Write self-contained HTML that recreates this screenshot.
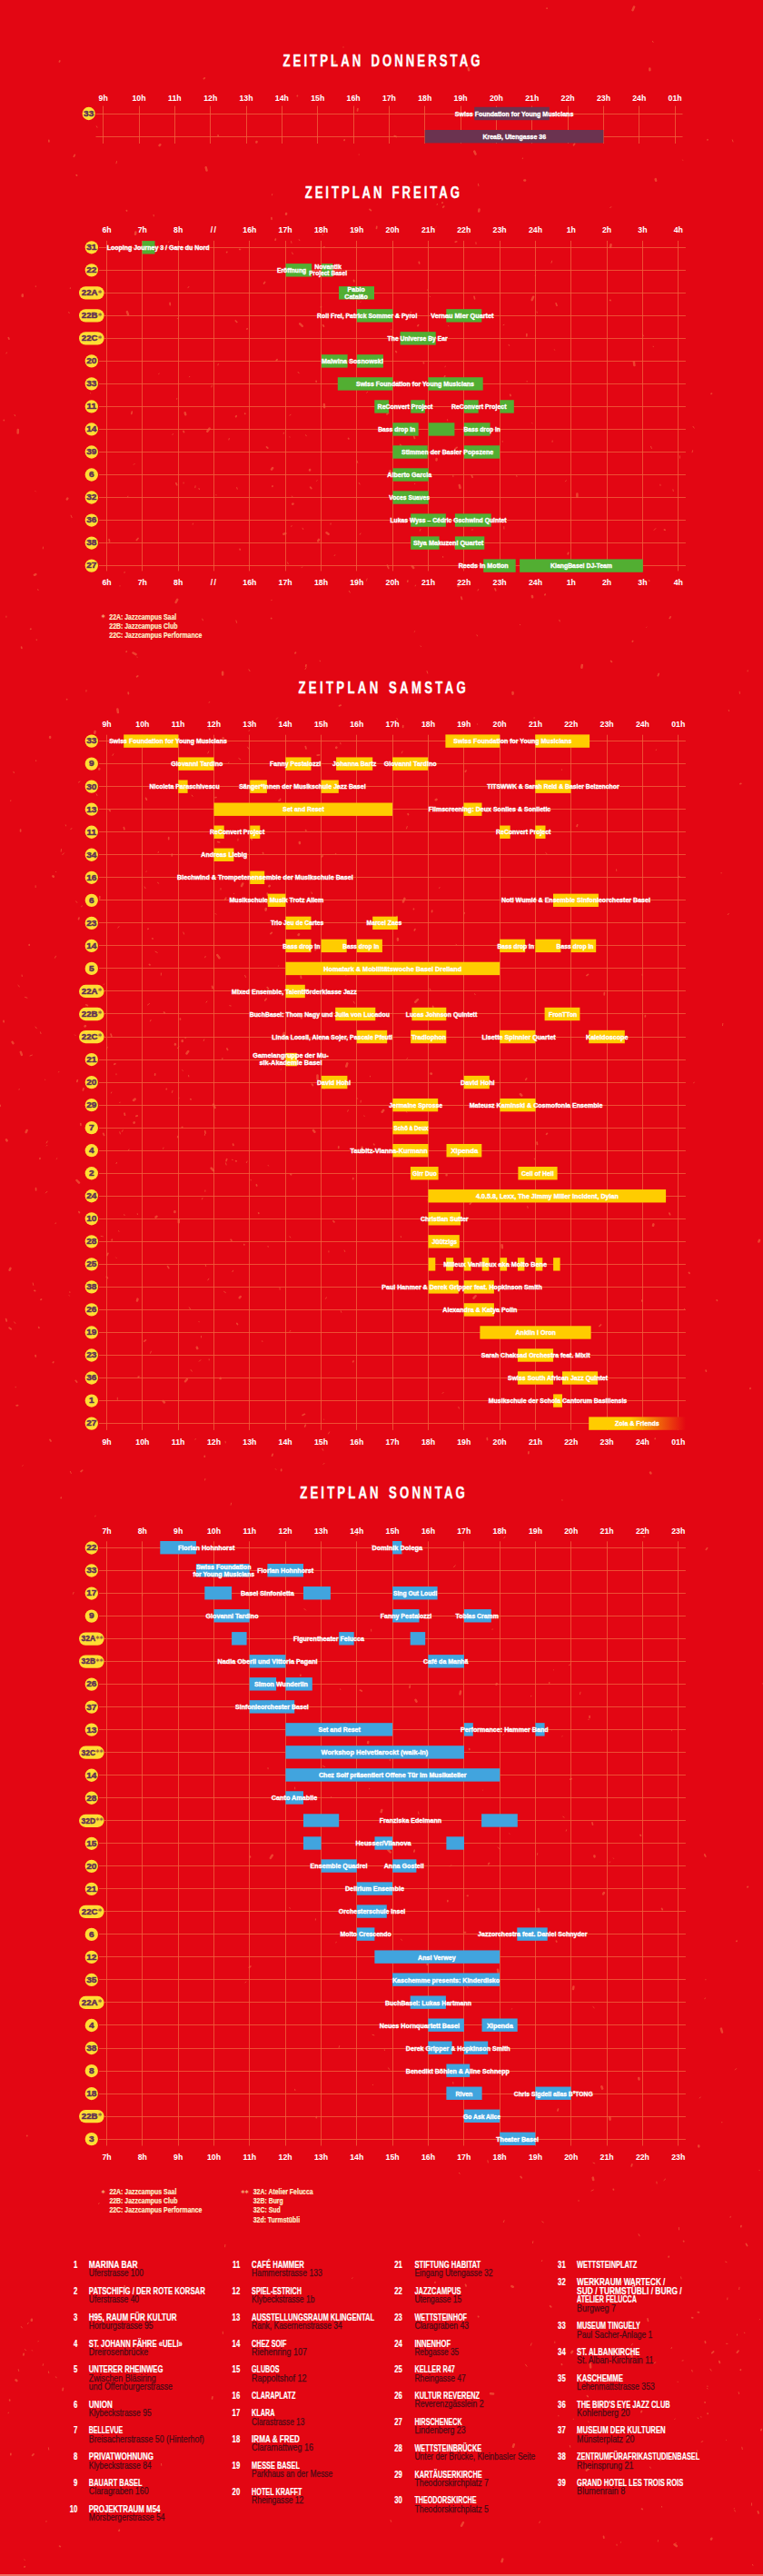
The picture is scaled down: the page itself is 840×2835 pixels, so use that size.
<!DOCTYPE html>
<html lang="de"><head><meta charset="utf-8"><title>Zeitplan</title>
<style>
html,body{margin:0;padding:0;background:#e30613;}
body{width:840px;height:2835px;overflow:hidden;font-family:"Liberation Sans",sans-serif;}
svg{display:block;font-family:"Liberation Sans",sans-serif;font-weight:700;}
.ti{fill:#fff;stroke:#fff;stroke-width:.35;}
.hl{fill:#fff;}
.ev{fill:#fff;stroke:#fff;stroke-width:.38;}
.gr{stroke:#f0603c;stroke-width:1;stroke-opacity:.8;fill:none;}
.cn{fill:#5f2d55;stroke:#5f2d55;stroke-width:.45;}
.st{fill:#9a5a40;font-family:"DejaVu Sans",sans-serif;}
.fn{fill:#ffefc8;stroke:#ffefc8;stroke-width:.2;}
.fs{fill:#f5a070;font-family:"DejaVu Sans",sans-serif;}
.ln{fill:#fff;stroke:#fff;stroke-width:.2;}
.la{fill:#4a0a14;stroke:#4a0a14;stroke-width:.25;font-weight:400;}
</style></head><body>
<svg width="840" height="2835" viewBox="0 0 840 2835">
<defs><linearGradient id="fade" x1="648" x2="755" gradientUnits="userSpaceOnUse"><stop offset="0" stop-color="#ffcc00"/><stop offset=".42" stop-color="#ffcc00"/><stop offset="1" stop-color="#e30613"/></linearGradient></defs>
<rect width="840" height="2835" fill="#e30613"/>
<rect y="2833" width="840" height="2" fill="#f06a5e"/>
<g stroke="#ee4d35" stroke-opacity=".85" stroke-linecap="round" fill="none"><path d="M307.8 106.5l0.2 0.2M320.0 456.2l-1.0 1.1M195.4 350.4l-0.1 0.3M252.3 482.5l-0.4 1.5M608.2 485.0l-0.1 1.4M456.3 502.5l0.3 0.2M316.5 618.9l0.8 1.8M492.6 461.6l0.1 1.3M321.5 277.9l0.9 1.8M403.0 318.2l-0.6 2.1M194.8 438.5l-0.2 0.7M526.5 202.3l0.4 2.4M219.0 537.4l0.4 1.3M487.6 612.4l0.1 1.0M404.7 431.2l-1.1 1.1M397.0 587.0l-0.7 1.2M576.5 622.6l0.0 0.4M568.7 523.3l0.3 1.3M141.0 546.3l-0.5 0.1M321.4 546.0l0.6 0.9M814.2 761.2l0.2 2.2M148.2 510.4l-0.9 0.9M610.4 384.8l0.2 0.4M128.5 177.5l-0.5 2.3M215.1 534.8l-0.3 1.9M472.9 326.1l0.6 0.4M397.1 332.1l-0.2 0.3M452.2 200.4l0.5 0.4M463.0 582.4l-0.7 1.9M404.1 636.9l-0.7 2.3M553.2 485.5l0.1 0.7M202.1 531.0l0.0 1.0M355.1 257.3l0.2 1.1M208.7 414.4l-0.2 0.4M318.9 480.8l0.1 0.3M433.1 297.2l-1.1 1.9M77.4 316.7l-0.1 0.9M260.7 536.5l0.5 1.7M430.7 362.6l-0.1 0.3M207.9 315.4l-1.0 1.4M748.4 501.7l0.1 2.5M332.7 623.9l-0.5 0.7M7.4 388.0l-0.4 0.9M395.2 531.4l0.9 1.6M554.8 579.6l0.1 2.5M321.1 578.6l-0.4 0.9M493.6 358.5l0.2 0.4M490.5 403.2l-0.6 0.4M299.0 660.3l-0.1 0.4M456.8 694.7l-0.7 0.6M623.3 528.8l-0.8 1.0M456.8 532.4l-0.4 0.1M721.8 581.6l-1.7 1.8M607.6 287.2l-0.6 2.1M237.9 544.6l0.1 0.3M41.7 648.6l0.4 1.0M560.1 379.3l0.5 1.1M763.0 469.3l1.2 1.8M328.1 409.4l1.1 1.4M349.1 528.7l-0.5 0.6M384.3 650.4l1.0 1.7M523.9 266.6l0.2 2.0M99.4 432.6l0.4 0.3M393.1 507.2l0.7 2.2M402.0 421.2l-0.5 0.6M240.3 400.5l-0.4 1.4M39.0 540.6l0.3 0.3M364.1 575.9l-0.1 1.3M572.5 687.4l0.1 0.3M740.9 538.7l0.4 1.8M39.3 314.8l0.0 0.9M470.9 318.6l-0.2 0.8M329.2 263.6l0.7 1.1M498.8 522.8l0.1 1.9M259.9 682.9l0.7 2.5M823.2 737.8l-0.1 1.1M40.2 703.7l0.1 1.0M459.3 441.4l-0.8 2.0M457.5 644.1l-0.3 0.8M707.4 368.1l1.0 1.7M751.6 176.1l0.1 0.2M525.0 698.8l0.5 1.1M579.9 419.8l0.7 -0.0M726.9 533.2l0.1 1.2M16.0 456.4l0.7 1.4M137.2 629.3l-0.2 1.2M555.0 357.4l-0.9 0.3M233.3 424.3l-0.5 1.7M585.7 465.6l0.3 0.2M591.0 343.1l0.3 1.0M762.6 495.7l-0.5 2.1M185.8 265.9l-0.4 0.6M481.4 224.4l-0.3 1.1M320.6 265.6l0.3 1.8M312.5 476.2l-0.3 1.1M589.5 303.1l-0.2 0.5M212.4 576.1l-0.2 1.0M520.1 582.6l-0.2 0.9M615.8 682.3l0.5 1.6M299.7 213.7l-0.2 1.1M175.2 411.2l-0.5 0.3M75.7 343.5l0.5 1.1M716.5 491.3l0.9 2.2M411.2 392.0l0.3 2.6M309.3 1176.7l-0.2 0.5M224.8 1143.8l-0.6 1.7M257.4 983.4l0.4 0.3M78.1 567.2l1.0 2.4M87.9 1140.2l0.7 1.4M346.3 796.1l-0.2 0.5M219.0 1454.5l0.1 0.3M6.9 678.1l0.0 1.2M211.2 875.1l0.9 1.3M356.6 1562.2l0.2 0.0M289.0 1476.2l-0.7 -0.2M230.8 772.7l-0.8 0.4M61.3 1345.9l-0.3 0.8M210.1 1507.5l1.1 1.7M334.5 1117.3l-0.2 1.7M337.1 734.6l-1.1 1.9M303.4 1616.7l0.5 0.6M200.7 1177.7l0.7 0.6M164.5 1104.6l-2.0 1.4M305.6 789.9l-1.4 1.6M223.0 1318.5l-0.6 1.4M248.1 1586.3l0.2 1.6M335.8 867.9l0.0 0.2M27.5 1097.4l2.4 0.8M357.0 1610.4l-1.0 1.0M180.0 1263.1l-0.4 1.1M441.3 1360.6l0.2 1.1M256.3 1276.5l-0.8 -0.2M62.9 1274.7l-0.8 0.8M222.7 681.1l0.7 1.7M70.4 938.9l-1.6 1.7M207.6 1183.4l0.2 1.5M319.8 1464.3l-0.9 1.2M225.6 839.0l-0.5 1.1M159.1 976.0l1.0 1.7M39.6 836.8l0.1 0.9M131.0 1019.6l-1.2 1.5M354.9 1594.4l0.9 1.9M72.3 907.9l0.2 1.0M359.7 1427.9l-1.5 1.4M230.2 1495.8l-0.0 1.1M333.1 581.2l0.6 1.3M342.9 981.9l0.6 1.7M190.0 1200.3l-0.6 2.2M352.2 727.1l0.2 0.7M128.5 1279.4l-0.5 1.2M39.2 974.7l-0.0 1.9M273.9 736.8l1.2 1.9M221.5 1470.3l0.0 1.7M132.0 644.7l-0.0 0.3M151.0 723.0l0.1 0.4M82.4 1138.9l0.6 0.6M131.8 1245.8l0.6 2.1M443.1 826.8l-0.9 2.1M177.4 1071.0l-0.1 2.2M243.0 977.6l0.0 1.5M19.9 1084.4l1.5 1.4M161.2 958.9l-0.3 0.6M47.5 602.0l-0.2 1.9M191.7 799.9l0.9 0.7M502.1 1039.2l0.3 0.4M39.0 1130.1l1.3 1.7M83.7 991.9l1.0 1.4M24.1 1073.0l0.2 1.6M136.7 1336.6l0.4 1.0M15.7 1454.9l1.1 1.5M142.0 1265.0l-0.8 1.4M190.4 477.6l-0.5 0.8M230.2 801.3l0.2 1.5M229.8 826.9l-1.0 2.1M51.8 1260.4l-0.5 0.6M295.0 1371.4l0.2 0.9M90.5 997.0l-1.0 0.7M111.1 1360.4l2.2 0.4M166.1 1122.5l-0.7 1.4M77.4 1619.4l0.9 2.1M173.5 971.3l1.3 0.9M67.5 934.6l-0.3 2.6M196.9 1151.8l-1.6 1.9M254.6 1654.2l-0.5 2.0M375.3 1442.8l0.5 1.5M262.0 923.1l-0.1 2.1M128.0 1181.8l-0.0 1.0M197.0 1208.2l-0.0 0.5M237.1 1005.4l0.8 0.9M276.1 1298.3l0.1 0.6M35.4 1161.1l-2.4 0.9M361.9 1376.8l0.0 1.2M400.9 1227.9l0.2 0.5M274.6 803.6l-0.6 0.9M226.2 1052.4l-0.5 1.4M290.1 872.1l-0.0 0.5M95.0 759.5l-0.1 1.6M61.5 1052.2l-1.0 2.0M252.0 838.9l-0.6 0.9M525.5 796.8l0.1 0.5M97.8 1018.5l0.5 0.8M156.9 1754.7l-0.3 1.7M201.8 1026.0l0.8 2.1M88.0 860.0l-1.6 1.1M360.2 1063.8l0.2 1.3M244.9 1164.4l-0.1 1.5M81.1 1752.4l-0.7 1.9M135.2 1243.7l-0.8 1.7M563.9 993.1l0.1 0.3M252.8 1106.7l1.4 0.3M151.3 1335.7l0.1 0.9M225.9 1309.9l-0.1 1.4M52.0 1311.2l-1.7 1.7M484.0 976.6l-0.4 0.8M306.8 1062.9l-0.5 0.3M132.0 1213.1l-0.2 0.5M246.6 1421.4l1.8 1.2M269.6 1073.4l1.0 2.1M64.8 1179.5l-0.2 0.4M130.4 1354.7l0.6 0.4M248.5 1279.9l0.6 2.1M118.2 1152.3l-0.7 2.0M11.8 880.9l-0.1 0.6M61.4 959.3l0.4 0.4M44.5 1135.9l0.5 1.7M21.2 1198.6l-0.2 0.6M271.3 942.9l0.5 2.3M304.2 868.8l-0.1 0.4M295.2 1282.5l0.3 0.5M368.9 610.9l-0.8 0.4M14.9 849.3l0.5 1.4M52.2 1256.0l-1.1 2.0M174.5 937.3l-0.4 1.1M122.8 1202.0l-0.4 1.0M397.3 1211.2l-0.2 2.0M473.0 1088.1l1.1 2.0M124.8 829.8l-0.9 1.6M522.6 1093.7l0.6 1.0M580.7 1327.6l0.4 1.8M448.8 1164.4l-1.0 0.9M272.6 822.2l1.4 2.1M588.3 1275.1l0.1 0.7M600.8 938.6l1.4 1.2M374.7 817.4l0.3 1.5M356.9 1196.3l0.2 2.3M588.7 790.0l-1.0 0.1M227.9 1102.0l-0.9 1.2M802.3 1005.3l-1.1 1.4M389.2 1102.1l1.2 2.1M229.9 1407.2l-1.1 1.7M393.1 1208.5l0.5 0.8M712.0 690.1l-0.2 0.2M526.7 648.5l-0.7 1.5M369.3 939.4l0.6 0.0M519.7 1315.0l-1.3 1.8M336.6 478.7l0.7 1.1M49.7 1188.2l0.0 0.2M123.7 700.3l0.8 1.8M802.2 781.3l0.3 1.3M338.2 861.3l1.0 1.1M618.5 846.8l-0.1 0.6M722.5 825.0l-0.3 0.7M262.9 834.6l1.9 1.3M78.9 911.5l-1.1 1.3M794.1 960.5l-0.0 0.5M381.7 1072.2l-1.0 1.6M747.4 964.5l1.7 0.8M436.8 790.4l1.0 1.7M226.1 1391.5l0.6 2.1M407.5 1184.3l-0.0 0.6M173.2 1048.4l-2.2 -1.2M707.1 1072.2l0.2 1.4M383.3 1221.7l-0.6 1.5M678.6 956.8l0.1 1.6M515.8 255.7l-0.7 1.5M470.0 738.5l0.8 2.5M795.8 1126.4l-0.3 2.3M106.1 873.7l0.9 1.9M504.8 1548.4l0.6 1.7M448.3 909.5l-0.8 2.5M583.2 994.9l-0.2 0.5M379.1 1376.0l0.6 1.5M114.6 1083.0l-0.4 0.5M511.5 1004.3l-0.3 1.5M463.1 711.0l0.3 0.5M25.1 1612.8l-0.3 0.4M127.7 1384.0l0.4 0.4M36.2 1412.0l0.5 2.4M76.8 1421.7l0.1 0.8M318.9 1360.8l0.8 1.2M272.1 1278.0l-0.7 1.6M17.2 1526.3l0.0 0.5M76.1 1425.7l0.2 0.3M488.1 1532.4l-0.9 1.0M308.0 1417.1l0.2 2.2M225.5 1248.4l-0.1 1.0M129.3 1538.2l0.0 2.2M220.8 1496.7l-1.5 1.5M208.3 1438.8l1.3 2.2M153.5 1514.7l-1.2 1.6M362.6 1576.0l-1.1 2.0M215.3 1583.5l-0.3 0.7M166.4 1487.2l-0.9 2.1M105.1 1668.1l-0.3 0.8M225.9 1627.5l-0.3 1.5M256.6 1398.2l-0.7 1.5M435.5 1756.0l0.8 2.0M619.1 1910.7l-0.3 0.2M556.0 1691.2l-1.4 1.7M514.2 2186.7l1.0 0.7M443.0 1708.9l-0.2 1.0M270.8 2181.0l-0.9 1.0M496.7 2052.7l-1.1 1.2M423.3 2255.8l0.1 0.8M618.9 1650.6l0.1 0.7M381.0 1896.1l-0.3 2.5M318.7 2099.4l0.6 0.9M560.8 2017.9l0.2 0.3M347.4 2111.8l0.0 1.3M324.6 1967.1l0.1 1.8M370.3 2137.4l-0.6 0.4M591.7 2039.7l-0.2 1.5M355.3 1943.5l2.4 1.0M587.5 1468.7l-0.6 0.8M441.5 2134.1l0.9 1.2M542.2 1792.9l-0.1 0.5M324.6 2299.3l0.3 1.3M295.0 1945.6l0.1 1.2M374.5 1858.8l0.3 0.7M609.4 1837.7l0.2 0.2M555.1 2443.7l-0.8 2.0M335.0 1770.5l1.5 1.5M498.7 2291.4l0.2 1.9M370.2 1933.4l-0.4 0.4M501.2 1722.8l-1.7 2.0M627.6 1831.9l-1.2 0.7M505.3 2391.3l1.0 0.9M619.8 1999.3l1.3 0.8M427.2 2275.8l1.8 1.7M739.3 1903.8l0.2 1.0M364.6 1977.6l-0.1 0.6M373.7 2251.6l-0.6 1.9M512.8 2257.3l-0.6 1.1M406.7 1968.3l-0.0 0.5M554.7 1908.4l-0.9 1.0M446.8 1222.6l1.1 1.6M386.1 1908.3l-0.1 0.2M548.1 2032.9l1.8 1.9M563.6 2210.7l-0.2 0.4M460.5 1993.9l0.5 2.5M531.4 1970.0l0.2 0.2M408.6 1793.2l0.1 2.0M652.9 2208.6l1.3 1.1M410.0 2239.3l1.9 0.6M463.2 1756.7l-0.1 0.4M523.8 1902.6l0.6 0.3M623.6 2013.8l-0.4 1.3M776.4 2198.9l-0.5 0.9M584.8 1866.3l-0.2 0.6M804.3 2439.3l-0.3 1.1M671.6 2049.0l-0.4 0.6M648.0 1892.1l0.0 0.4M810.6 2276.6l-1.2 1.3M764.2 1191.1l-0.5 0.8M753.4 1440.3l-0.0 0.3M675.3 2045.0l0.3 0.4M839.6 1852.8l0.5 0.7M429.2 1935.8l0.1 1.9M776.9 2178.3l0.0 0.6M639.0 1862.2l-0.5 2.5M811.6 2569.0l-0.1 1.1M647.7 2664.9l0.4 0.8M781.9 2607.2l1.2 1.9M808.3 2760.6l-0.1 0.3M653.3 2410.0l-2.3 1.1M596.8 2487.6l-0.4 1.0M798.7 2489.1l1.3 0.5M627.3 2691.4l0.5 1.8M747.4 2451.5l0.1 2.4M596.8 2444.9l1.5 1.0M800.9 2528.9l-0.2 1.9M637.0 2421.5l0.0 0.9M679.0 2800.2l0.1 1.1M715.6 2715.0l0.6 1.2M696.4 2579.3l-1.1 1.8M739.5 2583.5l-0.5 1.1M813.2 2632.7l0.4 1.9M768.2 2660.9l0.6 0.9M814.0 2517.3l-0.4 2.3M657.6 2676.6l0.4 1.4M744.4 2798.8l-0.8 0.2M749.5 2505.8l0.6 2.1M778.5 2628.6l0.6 0.3M631.3 2662.2l-0.0 0.2M816.8 2693.2l0.5 2.4M653.0 2380.2l1.8 0.7M799.5 2685.4l0.2 0.1M752.2 2597.8l-1.2 0.2M799.6 2579.3l1.3 0.1M771.5 2659.8l0.6 0.2M732.6 2398.1l-1.7 1.5M724.5 2795.6l-0.2 1.5M794.8 2335.4l0.0 0.5M722.9 2401.1l0.2 1.9M836.1 2388.3l0.0 0.4M746.1 2621.2l0.1 0.3M728.5 2758.4l0.1 0.8M634.8 2677.3l-0.0 0.9M827.5 2754.9l-0.1 2.4M771.2 2308.1l-1.1 0.9M836.5 2552.5l-0.2 0.3M808.8 2762.7l0.6 1.3M778.9 2625.9l-0.0 0.7M578.5 2602.2l1.5 2.1M724.0 2526.7l-0.1 0.4M714.5 2626.1l-0.3 0.5M721.8 2599.8l-2.0 1.2M773.8 2686.7l-1.7 0.7M743.1 2662.1l-0.3 0.2M819.5 2567.1l0.3 0.6M767.4 2696.8l0.5 1.0M660.1 2649.8l-0.2 0.8M683.5 2797.7l-0.1 0.5M685.8 2510.1l-1.2 2.0M26.8 2816.9l0.5 0.6M35.3 2586.7l0.2 0.3M42.2 2576.5l-0.2 0.4M9.4 2655.1l-0.3 0.7M53.4 2609.9l0.4 1.8M23.3 2560.5l1.0 1.4M20.2 2607.6l0.5 1.9M53.4 2693.8l0.3 2.2M31.3 2556.2l-0.9 1.4M47.6 2601.7l-0.4 1.6M61.5 2615.8l0.6 1.0M51.0 2774.5l-0.1 0.8M27.5 2585.6l1.1 1.2M585.2 2578.9l-0.9 2.4M464.7 2617.2l-0.0 0.4M536.9 2377.7l0.4 2.3M610.8 2577.0l0.0 1.6M177.5 2711.4l0.2 1.9M482.7 2730.0l0.7 1.1M247.9 2470.3l-0.3 2.5M127.0 2559.9l-0.3 2.3M761.7 2608.3l0.5 1.7M594.4 2775.0l-0.6 1.5M109.1 2424.6l-0.5 0.9M703.0 2458.7l1.1 2.1M245.3 2566.2l0.1 2.2M614.8 2658.3l0.1 0.7M388.1 2506.8l-0.5 0.7M410.5 2294.3l-0.1 0.3M828.5 2822.4l0.4 0.9M430.0 2773.5l0.7 1.9M586.8 2466.7l-0.3 1.9M718.4 45.3l0.7 1.2M575.4 174.0l-0.1 0.7M719.2 381.2l0.1 0.5M806.3 153.9l0.7 2.1M106.3 138.9l0.7 1.3M480.2 249.5l-0.3 0.3M672.9 227.8l-1.2 0.6M378.0 51.7l-0.0 0.5M504.1 147.6l-1.9 0.8M169.1 236.4l0.2 1.5M570.4 121.1l-0.2 0.8M395.2 170.0l-0.0 0.2" stroke-width="1.0"/><path d="M507.8 657.0l0.7 2.4M355.6 357.8l0.9 1.5M9.3 371.7l0.7 1.4M561.7 434.4l0.4 1.1M489.8 413.8l-0.6 1.5M259.3 353.0l1.5 1.5M519.3 523.1l0.8 2.2M522.0 326.4l0.6 2.5M427.7 624.8l0.0 0.6M298.9 239.5l0.1 1.8M300.0 534.9l-0.1 0.5M348.1 419.3l0.1 0.9M448.9 639.2l-0.2 1.0M389.5 308.3l0.3 1.4M264.1 604.4l0.2 0.5M461.3 288.4l0.3 1.4M4.3 462.3l-0.0 0.3M612.2 333.9l0.8 2.4M305.1 395.6l-0.9 1.1M303.4 263.0l-0.3 1.2M696.7 705.4l-0.4 0.6M455.7 480.0l0.8 2.5M120.1 593.6l0.5 2.4M545.0 647.9l0.7 1.9M377.4 302.9l0.0 0.5M502.7 265.8l-1.4 0.5M269.7 455.1l0.1 0.2M452.4 343.5l-0.1 0.3M427.6 454.3l-1.6 1.6M672.6 727.5l0.8 0.8M139.3 231.6l0.3 0.4M434.3 149.6l2.0 0.9M579.9 367.5l-0.1 2.4M249.8 277.3l-0.2 0.4M293.5 491.8l1.3 1.3M783.4 433.1l-0.4 0.3M53.8 154.4l0.1 1.5M383.6 482.5l0.3 0.4M291.6 310.5l-1.1 1.5M625.7 608.4l-0.5 1.4M202.0 474.5l0.5 1.1M152.0 592.5l-1.6 1.9M602.0 9.1l0.2 0.1M731.4 582.9l0.7 0.4M503.1 492.3l-1.9 1.6M671.6 330.3l0.4 0.2M353.5 337.7l-0.1 0.2M356.9 271.9l-0.2 0.6M466.3 399.1l0.2 0.5M439.1 491.5l-0.3 2.5M426.4 622.0l0.8 2.3M514.4 250.6l-0.2 0.6M272.1 361.8l-0.2 0.3M187.1 333.3l0.2 2.3M393.9 119.6l-0.4 2.4M145.3 453.1l-0.5 2.2M436.9 419.7l1.1 0.4M440.7 489.4l0.9 1.4M435.8 386.7l0.6 0.8M460.6 357.6l-0.7 1.1M264.4 274.5l-0.6 -0.1M414.8 249.4l-0.3 2.1M260.2 457.7l-0.6 1.0M488.7 227.1l-1.0 1.0M738.1 678.8l-0.8 1.6M122.0 1138.0l0.8 2.4M4.0 1123.4l0.1 1.4M151.8 743.9l-1.2 0.9M37.9 1420.3l0.7 0.3M351.6 830.9l-2.4 0.3M141.2 762.0l0.2 1.6M109.8 986.7l-0.1 2.2M209.8 1209.6l0.3 0.3M22.6 913.0l-0.0 2.0M492.7 1388.0l-0.1 0.6M85.3 1188.7l-0.5 1.7M103.0 864.5l0.1 0.6M300.2 1600.4l-0.7 1.8M456.9 1022.6l-0.6 1.2M375.1 776.1l-1.6 0.7M260.8 1456.4l0.7 1.2M87.0 1010.0l-0.5 1.7M185.7 921.7l0.0 1.9M39.1 1491.5l0.2 1.4M256.6 1259.2l0.3 1.3M463.9 1120.4l1.4 1.2M189.4 940.0l-0.1 2.0M294.2 1086.7l1.3 1.4M337.0 731.8l-0.3 1.4M298.6 680.4l0.1 0.2M126.9 1170.7l-1.1 0.6M23.6 712.1l0.3 1.3M120.5 891.5l0.7 1.0M34.0 692.1l-0.3 0.2M331.2 1118.7l0.8 1.9M335.4 1556.3l-2.3 1.2M167.9 1032.8l0.1 0.3M137.0 1225.2l0.5 2.0M331.2 1074.2l0.4 2.3M343.4 1193.1l1.0 1.4M308.6 879.3l-0.4 1.5M347.9 1044.4l-0.8 1.3M268.8 1369.6l0.1 0.2M299.3 1026.3l-1.4 1.4M117.5 1405.2l0.9 1.4M259.6 1277.7l0.5 0.2M437.1 1008.4l-0.8 1.6M123.4 1364.2l-0.3 0.6M239.7 926.5l1.9 0.5M32.2 1039.5l-0.0 0.7M249.9 1154.0l0.7 1.4M113.7 1247.4l0.9 1.9M151.2 1227.9l-1.3 0.5M139.3 717.0l-0.2 0.3M0.1 1216.3l0.0 1.0M443.7 798.6l-0.1 1.9M225.7 1244.9l0.4 2.2M248.8 988.2l-1.3 2.2M455.5 1000.2l-0.1 0.4M293.9 992.0l0.8 2.1M293.1 1099.2l-1.3 1.9M73.6 769.5l0.0 0.2M200.7 1240.4l-0.3 0.3M67.3 1648.2l-0.1 0.5M136.4 910.6l0.5 2.1M366.9 1343.8l1.0 1.1M249.7 1275.5l-0.6 2.1M289.5 938.6l0.3 0.5M341.6 536.1l1.2 1.5M39.5 1307.7l0.1 2.2M336.6 913.6l0.3 0.6M104.5 989.7l0.9 1.9M518.8 1323.3l-1.5 1.8M284.7 1334.8l0.1 0.5M339.9 1017.5l0.3 0.6M151.6 799.9l0.8 0.4M305.5 993.5l-0.2 2.2M45.5 1430.0l-0.6 0.4M164.4 1061.5l0.7 0.4M180.5 1114.0l0.8 0.8M86.9 1333.6l0.5 1.0M411.5 1259.1l0.5 0.8M233.6 1085.4l0.5 2.3M355.2 941.8l-1.0 1.0M88.8 1236.5l0.2 1.8M195.9 1250.6l-0.2 1.1M44.0 1274.7l-0.1 0.6M325.5 718.1l-0.6 0.8M184.6 1393.6l1.2 2.0M475.7 1002.0l-0.2 1.6M163.1 1022.2l-0.2 0.1M193.8 531.7l0.9 2.0M10.1 1461.2l2.1 1.6M170.7 1181.8l-0.1 1.4M183.3 1198.4l-0.1 0.3M372.8 1261.9l-0.1 1.6M335.9 1009.7l-0.0 0.8M237.9 877.5l-0.8 0.2M276.7 923.3l0.6 0.7M309.7 1617.2l-0.1 1.5M319.8 1292.2l0.8 0.6M335.2 837.2l0.2 0.9M92.0 1197.8l-0.6 2.1M96.4 1106.5l-1.7 -0.7M307.1 880.9l0.0 0.3M472.1 1318.8l-0.7 1.9M160.4 1474.9l-1.6 1.3M591.7 641.4l0.0 0.3M416.7 1265.1l0.1 2.0M706.7 1431.1l0.2 0.9M815.8 862.3l-0.9 0.4M434.9 59.1l0.1 2.2M708.7 1691.1l0.8 0.0M665.4 1092.7l-0.2 2.2M710.4 1117.6l-0.1 1.3M600.2 654.1l-0.3 0.6M336.3 821.5l0.7 2.4M294.3 983.2l0.2 1.9M392.9 637.2l-0.1 0.6M714.3 638.9l0.4 0.3M282.4 1303.9l0.3 1.0M476.6 1107.4l0.4 2.1M358.7 797.4l0.6 2.5M204.4 1141.8l-0.4 0.0M513.0 848.1l-0.7 1.2M449.1 895.7l0.4 0.8M160.6 878.3l0.8 1.8M432.7 840.4l-0.7 1.3M388.8 1296.5l-0.1 1.1M198.3 1121.0l0.2 1.0M721.3 1583.2l-0.1 0.2M646.5 994.5l0.5 1.2M635.7 907.7l-0.6 1.7M389.1 1497.9l-0.5 0.9M579.7 1186.9l-0.9 1.5M118.9 1379.3l-1.1 2.3M647.5 1072.4l-1.6 1.2M725.2 741.5l-0.8 2.1M42.7 1460.6l0.2 0.8M18.1 1546.8l1.5 -0.1M6.6 1451.6l0.7 2.4M58.8 1498.9l-0.4 0.7M55.0 1584.5l1.0 1.5M83.2 1519.3l1.4 1.8M336.3 1568.2l-0.7 1.8M152.4 1515.0l-0.1 0.3M254.2 1364.3l0.7 1.0M90.7 1618.1l-1.6 1.4M451.3 1855.2l-0.3 2.1M409.4 1700.5l0.0 0.2M225.3 1602.4l0.0 0.8M332.8 1638.3l-1.1 0.1M536.3 1582.7l0.2 2.0M728.6 2100.5l0.6 1.2M492.9 2091.6l-0.1 1.1M330.9 1843.3l-0.1 0.9M383.0 1643.2l0.1 1.0M275.9 2164.0l-1.5 1.4M652.0 2005.8l0.5 2.4M348.5 2329.7l-0.2 1.0M823.4 2076.3l-0.5 0.6M470.6 2160.2l-0.3 2.1M512.5 2126.6l-1.3 0.0M514.4 2086.3l0.7 0.1M582.0 1597.9l-0.2 1.8M516.7 1924.6l0.1 0.9M591.1 1257.0l0.4 2.5M275.4 2043.0l0.1 1.0M595.2 1685.3l-0.4 2.0M538.5 2050.5l-0.8 1.0M562.8 2226.1l-0.4 0.7M396.4 1860.1l1.8 0.9M604.7 1851.8l-0.0 0.3M412.8 2026.8l0.9 1.2M456.3 2036.2l-0.5 1.7M649.1 1888.5l0.0 1.8M789.1 1430.8l0.4 0.5M629.1 1957.6l-1.4 0.6M614.5 2321.0l-0.6 2.0M602.4 1247.4l-0.8 0.9M775.7 2041.0l1.1 2.1M705.0 2019.4l0.5 0.8M778.6 1703.7l-1.3 1.7M612.4 2136.1l0.4 0.9M826.0 1527.7l-0.1 0.6M736.9 1335.1l0.7 1.7M661.5 1458.0l-1.6 1.5M777.1 1508.0l0.3 1.1M811.1 2136.2l-0.2 0.2M758.5 1400.5l0.5 0.9M706.5 2653.4l-0.6 1.2M834.4 2763.8l0.7 2.1M695.8 2381.9l-0.6 2.1M816.0 2449.5l-0.3 1.2M752.6 2466.5l0.2 0.3M779.1 2656.0l0.1 0.5M706.5 2761.1l0.7 0.4M693.4 2554.5l-1.5 -0.0M838.3 2673.6l-0.5 1.0M727.0 2706.1l-0.2 1.4M727.8 2701.3l0.0 1.6M776.1 2643.8l0.1 0.2M646.5 2636.7l0.7 0.8M768.3 2544.6l1.2 0.2M736.3 2483.4l-0.2 0.5M666.7 2731.7l1.0 2.1M675.3 2409.4l0.2 0.6M776.3 2576.8l0.3 1.6M671.8 2647.6l0.3 1.7M761.7 2550.7l1.0 0.1M605.6 2537.8l1.1 1.1M713.0 2551.8l0.5 2.5M813.0 2587.1l-1.6 2.0M620.3 2675.5l-1.3 2.0M791.8 2598.5l0.6 2.0M815.4 2607.8l-0.1 0.6M664.5 2791.4l0.4 1.8M821.4 2469.4l1.2 2.2M785.6 2588.0l-1.8 1.6M26.1 2590.3l-0.2 1.5M29.8 2350.4l-0.1 0.3M27.3 2824.6l-0.3 0.4M37.0 2700.9l-1.4 1.5M11.9 2700.3l-0.1 1.4M10.6 2641.1l0.1 0.8M66.3 2802.6l-0.7 -0.5M479.0 2511.7l-0.1 0.5M618.4 2601.9l0.2 0.6M137.2 2515.7l0.3 0.7M233.9 2637.8l-0.4 2.2M573.2 2395.5l1.0 1.3M526.5 2549.3l0.3 0.5M131.3 2784.4l-0.3 0.9M512.5 2514.3l0.6 1.6M69.4 2628.4l-0.4 2.2M240.0 148.9l0.2 0.4M379.2 153.8l-0.2 0.7M632.6 158.2l-1.1 1.6M779.0 153.7l-0.1 0.3M487.2 223.0l-0.4 0.3M84.2 192.7l0.4 0.4M407.0 230.4l1.4 1.3M225.3 85.8l-0.9 0.9M327.4 105.3l-0.1 0.4M82.3 170.4l-1.0 1.9M65.8 67.0l-0.4 0.9M542.4 156.0l-0.1 0.3" stroke-width="1.7"/><path d="M341.1 516.9l-0.1 0.5M330.2 356.4l2.6 2.4M351.0 593.9l-0.8 1.4M146.5 718.5l3.0 1.6M472.7 421.9l0.0 1.6M24.8 324.4l-0.1 1.6M505.1 644.6l-0.8 0.4M698.1 7.6l-1.6 3.6M640.8 731.9l-0.4 2.8M368.9 67.7l-1.3 2.2M511.1 497.8l2.8 0.5M578.1 198.5l-0.8 -0.1M356.8 445.0l0.3 3.2M585.9 655.9l0.2 1.4M697.9 398.4l0.5 3.7M359.5 586.3l2.1 1.5M672.5 269.3l-0.4 2.8M98.3 344.1l-0.0 2.4M635.4 543.4l0.0 3.1M505.8 534.0l0.7 2.9M315.1 235.1l-0.1 0.7M453.8 623.1l1.4 1.8M715.3 75.6l0.1 1.7M480.6 505.1l-0.1 1.4M436.7 347.6l-1.1 0.8M19.8 473.1l-0.1 3.3M564.5 761.9l0.1 1.9M501.1 600.1l0.8 3.6M314.3 587.1l-2.0 0.6M203.7 454.2l0.5 2.1M139.9 343.1l1.1 3.1M522.2 166.6l1.3 3.0M149.4 255.4l-0.4 2.4M230.6 471.5l-2.3 3.2M74.3 548.6l-0.5 0.8M300.1 515.1l-1.1 1.5M195.2 659.9l-1.6 3.1M322.6 554.5l-0.4 0.2M429.4 518.2l0.7 3.8M370.4 822.5l-0.2 0.4M459.9 1100.0l-2.7 2.8M312.8 1136.8l-1.6 3.5M151.5 1429.6l-0.5 1.9M445.4 988.9l-1.5 3.6M7.0 1254.3l0.6 1.1M392.8 1688.7l-0.3 0.3M245.6 812.2l0.3 0.4M200.7 1145.3l-0.0 0.7M172.5 1338.8l-1.0 0.7M329.8 927.0l0.1 1.2M22.8 1157.9l1.1 3.0M291.4 892.0l-0.8 0.9M232.6 1285.6l2.3 2.6M437.9 1033.1l0.1 1.5M84.5 1299.0l2.5 2.7M196.8 1342.6l0.0 2.7M39.3 632.1l-1.4 0.7M203.5 843.2l-0.9 2.8M216.8 1482.8l0.4 1.2M129.4 780.6l0.5 3.5M13.6 1146.9l0.8 1.2M296.8 974.8l-0.5 0.5M58.4 964.3l0.4 0.5M382.3 1170.4l-1.0 3.1M242.7 1516.7l-0.1 0.4M292.8 999.9l-0.2 1.8M207.2 1157.0l-1.7 2.5M11.5 1395.8l-0.9 2.0M229.0 843.8l-0.2 0.9M239.3 1051.1l2.2 3.1M349.5 1183.6l-0.0 3.9M147.8 1235.4l-0.3 0.2M474.4 1181.6l0.5 0.1M329.1 1028.2l-0.5 0.8M55.1 810.9l-0.0 0.8M104.6 805.1l-0.3 1.6M193.0 1149.1l-0.1 0.4M235.0 1215.6l1.5 3.4M398.7 1262.6l-0.5 1.8M192.4 1333.3l0.0 0.7M345.0 1243.9l1.4 1.8M435.0 524.3l2.1 1.7M719.4 1347.4l-0.4 1.4M480.5 879.9l-0.8 0.4M405.5 891.8l-0.3 1.4M552.6 1370.2l0.3 3.1M245.1 739.7l0.0 2.8M422.2 1221.9l-1.5 1.8M836.1 1364.8l-0.7 1.7M109.3 846.1l-0.1 0.5M587.1 326.7l-1.4 3.4M94.0 1129.0l-0.5 0.4M148.7 1209.5l-1.6 1.5M29.6 1244.0l-0.9 2.1M652.3 991.1l0.1 1.2M267.2 972.5l-1.2 2.6M264.7 1427.0l-1.0 1.2M572.9 1204.2l1.4 1.5M491.6 1292.9l-0.0 0.4M179.7 1542.0l1.2 1.4M205.9 1518.0l-1.9 2.3M457.5 1870.9l1.0 1.8M299.8 2041.8l-2.0 3.1M420.3 1992.0l-0.6 2.1M592.8 2101.0l0.5 2.5M523.6 1426.2l-2.1 2.4M664.9 2083.1l-0.8 1.4M662.3 2296.3l0.9 2.4M458.0 1950.8l-0.5 2.4M405.3 1917.1l-0.2 1.1M546.9 1853.2l-0.5 0.5M507.0 1861.6l-0.5 2.8M548.0 2167.8l0.7 3.6M427.5 2036.2l2.2 2.3M654.4 2042.4l0.1 1.0M564.8 2516.8l-1.4 -0.7M793.9 2232.6l1.1 3.9M703.3 2287.1l0.2 1.3M631.4 2186.6l-0.4 2.5M671.3 2329.9l0.3 2.8M716.0 1620.6l0.5 0.9M630.2 2587.7l-1.0 1.6M565.8 2690.2l-0.9 2.6M649.8 2601.5l0.4 3.9M553.3 2816.5l-0.8 2.6M769.2 2361.4l0.1 1.1M540.0 2634.3l3.1 0.3M648.1 2716.7l-2.3 1.9M691.6 2682.3l-0.4 0.3M652.7 2396.6l0.5 2.4M695.9 2590.3l-0.4 3.2M783.4 2793.7l-0.4 0.9M661.2 2519.9l1.1 1.4M742.5 2800.3l2.3 1.8M17.5 2619.3l0.9 0.8M34.9 2552.8l-0.1 1.0M329.1 2744.7l-1.4 1.3M509.9 2776.2l-1.8 3.6M515.7 75.3l0.4 2.0M527.5 230.6l-0.3 2.0M721.7 197.1l0.4 1.7M226.7 184.3l0.8 3.2M282.5 156.0l-0.1 0.5M176.3 159.2l-0.7 0.9" stroke-width="2.5"/></g>
<g>
<text transform="translate(311.5 73.3) scale(0.72 1)" font-size="18.3" class="ti" letter-spacing="4.22" word-spacing="2.08" textLength="305.61" lengthAdjust="spacing">ZEITPLAN DONNERSTAG</text>
<path class="gr" d="M113.5 116.6V158M153.5 116.6V158M192.5 116.6V158M231.5 116.6V158M271.5 116.6V158M310.5 116.6V158M349.5 116.6V158M389.5 116.6V158M428.5 116.6V158M467.5 116.6V158M507.5 116.6V158M546.5 116.6V158M585.5 116.6V158M625.5 116.6V158M664.5 116.6V158M703.5 116.6V158M743.5 116.6V158M105.5 125.5H751.5M105.5 150.5H751.5"/>
<text x="113.7" y="111.28" font-size="8.8" class="hl" text-anchor="middle" textLength="10.2" lengthAdjust="spacingAndGlyphs">9h</text>
<text x="153.04" y="111.28" font-size="8.8" class="hl" text-anchor="middle" textLength="15.06" lengthAdjust="spacingAndGlyphs">10h</text>
<text x="192.38" y="111.28" font-size="8.8" class="hl" text-anchor="middle" textLength="14.58" lengthAdjust="spacingAndGlyphs">11h</text>
<text x="231.72" y="111.28" font-size="8.8" class="hl" text-anchor="middle" textLength="15.06" lengthAdjust="spacingAndGlyphs">12h</text>
<text x="271.06" y="111.28" font-size="8.8" class="hl" text-anchor="middle" textLength="15.06" lengthAdjust="spacingAndGlyphs">13h</text>
<text x="310.4" y="111.28" font-size="8.8" class="hl" text-anchor="middle" textLength="15.06" lengthAdjust="spacingAndGlyphs">14h</text>
<text x="349.74" y="111.28" font-size="8.8" class="hl" text-anchor="middle" textLength="15.06" lengthAdjust="spacingAndGlyphs">15h</text>
<text x="389.08" y="111.28" font-size="8.8" class="hl" text-anchor="middle" textLength="15.06" lengthAdjust="spacingAndGlyphs">16h</text>
<text x="428.42" y="111.28" font-size="8.8" class="hl" text-anchor="middle" textLength="15.06" lengthAdjust="spacingAndGlyphs">17h</text>
<text x="467.76" y="111.28" font-size="8.8" class="hl" text-anchor="middle" textLength="15.06" lengthAdjust="spacingAndGlyphs">18h</text>
<text x="507.1" y="111.28" font-size="8.8" class="hl" text-anchor="middle" textLength="15.06" lengthAdjust="spacingAndGlyphs">19h</text>
<text x="546.44" y="111.28" font-size="8.8" class="hl" text-anchor="middle" textLength="15.06" lengthAdjust="spacingAndGlyphs">20h</text>
<text x="585.78" y="111.28" font-size="8.8" class="hl" text-anchor="middle" textLength="15.06" lengthAdjust="spacingAndGlyphs">21h</text>
<text x="625.12" y="111.28" font-size="8.8" class="hl" text-anchor="middle" textLength="15.06" lengthAdjust="spacingAndGlyphs">22h</text>
<text x="664.46" y="111.28" font-size="8.8" class="hl" text-anchor="middle" textLength="15.06" lengthAdjust="spacingAndGlyphs">23h</text>
<text x="703.8" y="111.28" font-size="8.8" class="hl" text-anchor="middle" textLength="15.06" lengthAdjust="spacingAndGlyphs">24h</text>
<text x="743.14" y="111.28" font-size="8.8" class="hl" text-anchor="middle" textLength="15.06" lengthAdjust="spacingAndGlyphs">01h</text>
<rect x="522.2" y="117.8" width="82.6" height="14.4" fill="#6b3350"/>
<rect x="467.7" y="143" width="196.7" height="14.4" fill="#6b3350"/>
<circle cx="97.7" cy="125" r="7.15" fill="#ffdd33"/>
<text x="97.7" y="127.85" font-size="9" class="cn" text-anchor="middle" textLength="11.21" lengthAdjust="spacingAndGlyphs">33</text>
<text x="500.8" y="127.6" font-size="8" class="ev" textLength="130.5" lengthAdjust="spacingAndGlyphs">Swiss Foundation for Young Musicians</text>
<text x="531.4" y="152.8" font-size="8" class="ev" textLength="69.7" lengthAdjust="spacingAndGlyphs">KreaB, Utengasse 36</text>
</g>
<g>
<text transform="translate(335.7 218.3) scale(0.72 1)" font-size="18.3" class="ti" letter-spacing="4.06" word-spacing="2.08" textLength="240.59" lengthAdjust="spacing">ZEITPLAN FREITAG</text>
<path class="gr" d="M117.5 264.9V628.4M156.5 264.9V628.4M196.5 264.9V628.4M235.5 264.9V628.4M274.5 264.9V628.4M314.5 264.9V628.4M353.5 264.9V628.4M392.5 264.9V628.4M432.5 264.9V628.4M471.5 264.9V628.4M510.5 264.9V628.4M550.5 264.9V628.4M589.5 264.9V628.4M628.5 264.9V628.4M668.5 264.9V628.4M707.5 264.9V628.4M746.5 264.9V628.4M109 272.5H754.9M109 297.5H754.9M114.6 322.5H754.9M114.6 347.5H754.9M114.6 372.5H754.9M109 397.5H754.9M109 422.5H754.9M109 447.5H754.9M109 472.5H754.9M109 497.5H754.9M109 522.5H754.9M109 547.5H754.9M109 572.5H754.9M109 597.5H754.9M109 622.5H754.9"/>
<text x="117.5" y="255.88" font-size="8.8" class="hl" text-anchor="middle" textLength="10.2" lengthAdjust="spacingAndGlyphs">6h</text>
<text x="156.83" y="255.88" font-size="8.8" class="hl" text-anchor="middle" textLength="10.2" lengthAdjust="spacingAndGlyphs">7h</text>
<text x="196.16" y="255.88" font-size="8.8" class="hl" text-anchor="middle" textLength="10.2" lengthAdjust="spacingAndGlyphs">8h</text>
<text x="235.49" y="255.88" font-size="8.8" class="hl" text-anchor="middle" letter-spacing="1.2">//</text>
<text x="274.82" y="255.88" font-size="8.8" class="hl" text-anchor="middle" textLength="15.06" lengthAdjust="spacingAndGlyphs">16h</text>
<text x="314.15" y="255.88" font-size="8.8" class="hl" text-anchor="middle" textLength="15.06" lengthAdjust="spacingAndGlyphs">17h</text>
<text x="353.48" y="255.88" font-size="8.8" class="hl" text-anchor="middle" textLength="15.06" lengthAdjust="spacingAndGlyphs">18h</text>
<text x="392.81" y="255.88" font-size="8.8" class="hl" text-anchor="middle" textLength="15.06" lengthAdjust="spacingAndGlyphs">19h</text>
<text x="432.14" y="255.88" font-size="8.8" class="hl" text-anchor="middle" textLength="15.06" lengthAdjust="spacingAndGlyphs">20h</text>
<text x="471.47" y="255.88" font-size="8.8" class="hl" text-anchor="middle" textLength="15.06" lengthAdjust="spacingAndGlyphs">21h</text>
<text x="510.8" y="255.88" font-size="8.8" class="hl" text-anchor="middle" textLength="15.06" lengthAdjust="spacingAndGlyphs">22h</text>
<text x="550.13" y="255.88" font-size="8.8" class="hl" text-anchor="middle" textLength="15.06" lengthAdjust="spacingAndGlyphs">23h</text>
<text x="589.46" y="255.88" font-size="8.8" class="hl" text-anchor="middle" textLength="15.06" lengthAdjust="spacingAndGlyphs">24h</text>
<text x="628.79" y="255.88" font-size="8.8" class="hl" text-anchor="middle" textLength="10.2" lengthAdjust="spacingAndGlyphs">1h</text>
<text x="668.12" y="255.88" font-size="8.8" class="hl" text-anchor="middle" textLength="10.2" lengthAdjust="spacingAndGlyphs">2h</text>
<text x="707.45" y="255.88" font-size="8.8" class="hl" text-anchor="middle" textLength="10.2" lengthAdjust="spacingAndGlyphs">3h</text>
<text x="746.78" y="255.88" font-size="8.8" class="hl" text-anchor="middle" textLength="10.2" lengthAdjust="spacingAndGlyphs">4h</text>
<text x="117.5" y="644.28" font-size="8.8" class="hl" text-anchor="middle" textLength="10.2" lengthAdjust="spacingAndGlyphs">6h</text>
<text x="156.83" y="644.28" font-size="8.8" class="hl" text-anchor="middle" textLength="10.2" lengthAdjust="spacingAndGlyphs">7h</text>
<text x="196.16" y="644.28" font-size="8.8" class="hl" text-anchor="middle" textLength="10.2" lengthAdjust="spacingAndGlyphs">8h</text>
<text x="235.49" y="644.28" font-size="8.8" class="hl" text-anchor="middle" letter-spacing="1.2">//</text>
<text x="274.82" y="644.28" font-size="8.8" class="hl" text-anchor="middle" textLength="15.06" lengthAdjust="spacingAndGlyphs">16h</text>
<text x="314.15" y="644.28" font-size="8.8" class="hl" text-anchor="middle" textLength="15.06" lengthAdjust="spacingAndGlyphs">17h</text>
<text x="353.48" y="644.28" font-size="8.8" class="hl" text-anchor="middle" textLength="15.06" lengthAdjust="spacingAndGlyphs">18h</text>
<text x="392.81" y="644.28" font-size="8.8" class="hl" text-anchor="middle" textLength="15.06" lengthAdjust="spacingAndGlyphs">19h</text>
<text x="432.14" y="644.28" font-size="8.8" class="hl" text-anchor="middle" textLength="15.06" lengthAdjust="spacingAndGlyphs">20h</text>
<text x="471.47" y="644.28" font-size="8.8" class="hl" text-anchor="middle" textLength="15.06" lengthAdjust="spacingAndGlyphs">21h</text>
<text x="510.8" y="644.28" font-size="8.8" class="hl" text-anchor="middle" textLength="15.06" lengthAdjust="spacingAndGlyphs">22h</text>
<text x="550.13" y="644.28" font-size="8.8" class="hl" text-anchor="middle" textLength="15.06" lengthAdjust="spacingAndGlyphs">23h</text>
<text x="589.46" y="644.28" font-size="8.8" class="hl" text-anchor="middle" textLength="15.06" lengthAdjust="spacingAndGlyphs">24h</text>
<text x="628.79" y="644.28" font-size="8.8" class="hl" text-anchor="middle" textLength="10.2" lengthAdjust="spacingAndGlyphs">1h</text>
<text x="668.12" y="644.28" font-size="8.8" class="hl" text-anchor="middle" textLength="10.2" lengthAdjust="spacingAndGlyphs">2h</text>
<text x="707.45" y="644.28" font-size="8.8" class="hl" text-anchor="middle" textLength="10.2" lengthAdjust="spacingAndGlyphs">3h</text>
<text x="746.78" y="644.28" font-size="8.8" class="hl" text-anchor="middle" textLength="10.2" lengthAdjust="spacingAndGlyphs">4h</text>
<rect x="156.6" y="265.1" width="13.9" height="14.4" fill="#52ae32"/>
<rect x="314.6" y="290.12" width="28.6" height="14.4" fill="#52ae32"/>
<rect x="354" y="290.12" width="12.5" height="14.4" fill="#52ae32"/>
<rect x="373" y="315.14" width="39" height="14.4" fill="#52ae32"/>
<rect x="393" y="340.16" width="39.4" height="14.4" fill="#52ae32"/>
<rect x="491.3" y="340.16" width="39" height="14.4" fill="#52ae32"/>
<rect x="440.6" y="365.18" width="39.1" height="14.4" fill="#52ae32"/>
<rect x="354" y="390.2" width="28.6" height="14.4" fill="#52ae32"/>
<rect x="393" y="390.2" width="28.9" height="14.4" fill="#52ae32"/>
<rect x="371.8" y="415.22" width="60.5" height="14.4" fill="#52ae32"/>
<rect x="471.4" y="415.22" width="60.3" height="14.4" fill="#52ae32"/>
<rect x="412.3" y="440.24" width="15.7" height="14.4" fill="#52ae32"/>
<rect x="452.2" y="440.24" width="15.7" height="14.4" fill="#52ae32"/>
<rect x="511" y="440.24" width="15.7" height="14.4" fill="#52ae32"/>
<rect x="550.4" y="440.24" width="15.4" height="14.4" fill="#52ae32"/>
<rect x="432.4" y="465.26" width="28.3" height="14.4" fill="#52ae32"/>
<rect x="471.8" y="465.26" width="28.6" height="14.4" fill="#52ae32"/>
<rect x="511" y="465.26" width="28.6" height="14.4" fill="#52ae32"/>
<rect x="432.4" y="490.28" width="38.3" height="14.4" fill="#52ae32"/>
<rect x="511" y="490.28" width="39.1" height="14.4" fill="#52ae32"/>
<rect x="432.4" y="515.3" width="39.4" height="14.4" fill="#52ae32"/>
<rect x="432.4" y="540.32" width="39.4" height="14.4" fill="#52ae32"/>
<rect x="452.2" y="565.34" width="38.6" height="14.4" fill="#52ae32"/>
<rect x="500.9" y="565.34" width="39.8" height="14.4" fill="#52ae32"/>
<rect x="452.2" y="590.36" width="31.4" height="14.4" fill="#52ae32"/>
<rect x="500.9" y="590.36" width="32.4" height="14.4" fill="#52ae32"/>
<rect x="532.2" y="615.38" width="35.5" height="14.4" fill="#52ae32"/>
<rect x="572.1" y="615.38" width="135.7" height="14.4" fill="#52ae32"/>
<circle cx="100.8" cy="272.3" r="7.15" fill="#ffdd33"/>
<text x="100.8" y="275.15" font-size="9" class="cn" text-anchor="middle" textLength="11.21" lengthAdjust="spacingAndGlyphs">31</text>
<circle cx="100.8" cy="297.32" r="7.15" fill="#ffdd33"/>
<text x="100.8" y="300.17" font-size="9" class="cn" text-anchor="middle" textLength="11.21" lengthAdjust="spacingAndGlyphs">22</text>
<rect x="87" y="315.19" width="27.6" height="14.3" rx="7.15" fill="#ffdd33"/>
<text x="89.8" y="325.19" font-size="9" class="cn" textLength="17.7" lengthAdjust="spacingAndGlyphs">22A</text>
<text x="107.7" y="325.54" font-size="9.5" class="st" textLength="4.6" lengthAdjust="spacingAndGlyphs">*</text>
<rect x="87" y="340.21" width="27.6" height="14.3" rx="7.15" fill="#ffdd33"/>
<text x="89.8" y="350.21" font-size="9" class="cn" textLength="17.7" lengthAdjust="spacingAndGlyphs">22B</text>
<text x="107.7" y="350.56" font-size="9.5" class="st" textLength="4.6" lengthAdjust="spacingAndGlyphs">*</text>
<rect x="87" y="365.23" width="27.6" height="14.3" rx="7.15" fill="#ffdd33"/>
<text x="89.8" y="375.23" font-size="9" class="cn" textLength="17.7" lengthAdjust="spacingAndGlyphs">22C</text>
<text x="107.7" y="375.58" font-size="9.5" class="st" textLength="4.6" lengthAdjust="spacingAndGlyphs">*</text>
<circle cx="100.8" cy="397.4" r="7.15" fill="#ffdd33"/>
<text x="100.8" y="400.25" font-size="9" class="cn" text-anchor="middle" textLength="11.21" lengthAdjust="spacingAndGlyphs">20</text>
<circle cx="100.8" cy="422.42" r="7.15" fill="#ffdd33"/>
<text x="100.8" y="425.27" font-size="9" class="cn" text-anchor="middle" textLength="11.21" lengthAdjust="spacingAndGlyphs">33</text>
<circle cx="100.8" cy="447.44" r="7.15" fill="#ffdd33"/>
<text x="100.8" y="450.29" font-size="9" class="cn" text-anchor="middle" textLength="10.66" lengthAdjust="spacingAndGlyphs">11</text>
<circle cx="100.8" cy="472.46" r="7.15" fill="#ffdd33"/>
<text x="100.8" y="475.31" font-size="9" class="cn" text-anchor="middle" textLength="11.21" lengthAdjust="spacingAndGlyphs">14</text>
<circle cx="100.8" cy="497.48" r="7.15" fill="#ffdd33"/>
<text x="100.8" y="500.33" font-size="9" class="cn" text-anchor="middle" textLength="11.21" lengthAdjust="spacingAndGlyphs">39</text>
<circle cx="100.8" cy="522.5" r="7.15" fill="#ffdd33"/>
<text x="100.8" y="525.35" font-size="9" class="cn" text-anchor="middle" textLength="5.61" lengthAdjust="spacingAndGlyphs">6</text>
<circle cx="100.8" cy="547.52" r="7.15" fill="#ffdd33"/>
<text x="100.8" y="550.37" font-size="9" class="cn" text-anchor="middle" textLength="11.21" lengthAdjust="spacingAndGlyphs">32</text>
<circle cx="100.8" cy="572.54" r="7.15" fill="#ffdd33"/>
<text x="100.8" y="575.39" font-size="9" class="cn" text-anchor="middle" textLength="11.21" lengthAdjust="spacingAndGlyphs">36</text>
<circle cx="100.8" cy="597.56" r="7.15" fill="#ffdd33"/>
<text x="100.8" y="600.41" font-size="9" class="cn" text-anchor="middle" textLength="11.21" lengthAdjust="spacingAndGlyphs">38</text>
<circle cx="100.8" cy="622.58" r="7.15" fill="#ffdd33"/>
<text x="100.8" y="625.43" font-size="9" class="cn" text-anchor="middle" textLength="11.21" lengthAdjust="spacingAndGlyphs">27</text>
<text x="117.7" y="274.9" font-size="8" class="ev" textLength="112.9" lengthAdjust="spacingAndGlyphs">Looping Journey 3 / Gare du Nord</text>
<text x="305" y="299.92" font-size="8" class="ev" textLength="32.2" lengthAdjust="spacingAndGlyphs">Eröffnung</text>
<text x="346.2" y="296.22" font-size="8" class="ev" textLength="29.8" lengthAdjust="spacingAndGlyphs">Novantik</text>
<text x="340.2" y="303.22" font-size="8" class="ev" textLength="41.8" lengthAdjust="spacingAndGlyphs">Project Basel</text>
<text x="382.6" y="321.24" font-size="8" class="ev" textLength="19.2" lengthAdjust="spacingAndGlyphs">Pablo</text>
<text x="379.3" y="328.94" font-size="8" class="ev" textLength="25.6" lengthAdjust="spacingAndGlyphs">Catalão</text>
<text x="349" y="349.96" font-size="8" class="ev" textLength="110.6" lengthAdjust="spacingAndGlyphs">Roli Frei, Patrick Sommer &amp; Pyro!</text>
<text x="474.2" y="349.96" font-size="8" class="ev" textLength="69.3" lengthAdjust="spacingAndGlyphs">Vernau Mier Quartet</text>
<text x="426.6" y="374.98" font-size="8" class="ev" textLength="66.1" lengthAdjust="spacingAndGlyphs">The Universe By Ear</text>
<text x="354" y="400" font-size="8" class="ev" textLength="67.9" lengthAdjust="spacingAndGlyphs">Malwina Sosnowski</text>
<text x="392" y="425.02" font-size="8" class="ev" textLength="130" lengthAdjust="spacingAndGlyphs">Swiss Foundation for Young Musicians</text>
<text x="415.6" y="450.04" font-size="8" class="ev" textLength="60.8" lengthAdjust="spacingAndGlyphs">ReConvert Project</text>
<text x="497" y="450.04" font-size="8" class="ev" textLength="60.5" lengthAdjust="spacingAndGlyphs">ReConvert Project</text>
<text x="416.2" y="475.06" font-size="8" class="ev" textLength="41" lengthAdjust="spacingAndGlyphs">Bass drop in</text>
<text x="510.5" y="475.06" font-size="8" class="ev" textLength="40.4" lengthAdjust="spacingAndGlyphs">Bass drop in</text>
<text x="442" y="500.08" font-size="8" class="ev" textLength="101.2" lengthAdjust="spacingAndGlyphs">Stimmen der Basler Popszene</text>
<text x="426.3" y="525.1" font-size="8" class="ev" textLength="48.8" lengthAdjust="spacingAndGlyphs">Alberto Garcia</text>
<text x="428.3" y="550.12" font-size="8" class="ev" textLength="44.6" lengthAdjust="spacingAndGlyphs">Voces Suaves</text>
<text x="429.4" y="575.14" font-size="8" class="ev" textLength="128.1" lengthAdjust="spacingAndGlyphs">Lukas Wyss – Cédric Gschwind Quintet</text>
<text x="455" y="600.16" font-size="8" class="ev" textLength="77.2" lengthAdjust="spacingAndGlyphs">Siya Makuzeni Quartet</text>
<text x="504.7" y="625.18" font-size="8" class="ev" textLength="55" lengthAdjust="spacingAndGlyphs">Reeds in Motion</text>
<text x="606" y="625.18" font-size="8" class="ev" textLength="68" lengthAdjust="spacingAndGlyphs">KlangBasel DJ-Team</text>
</g>
<g>
<text transform="translate(328.5 762.7) scale(0.72 1)" font-size="18.3" class="ti" letter-spacing="4.61" word-spacing="2.08" textLength="260.59" lengthAdjust="spacing">ZEITPLAN SAMSTAG</text>
<path class="gr" d="M117.5 808.7V1573.9M156.5 808.7V1573.9M196.5 808.7V1573.9M235.5 808.7V1573.9M274.5 808.7V1573.9M314.5 808.7V1573.9M353.5 808.7V1573.9M392.5 808.7V1573.9M432.5 808.7V1573.9M471.5 808.7V1573.9M510.5 808.7V1573.9M550.5 808.7V1573.9M589.5 808.7V1573.9M628.5 808.7V1573.9M668.5 808.7V1573.9M707.5 808.7V1573.9M746.5 808.7V1573.9M109 815.5H754.9M109 840.5H754.9M109 865.5H754.9M109 890.5H754.9M109 915.5H754.9M109 940.5H754.9M109 965.5H754.9M109 990.5H754.9M109 1015.5H754.9M109 1040.5H754.9M109 1065.5H754.9M114.6 1090.5H754.9M114.6 1115.5H754.9M114.6 1141.5H754.9M109 1166.5H754.9M109 1191.5H754.9M109 1216.5H754.9M109 1241.5H754.9M109 1266.5H754.9M109 1291.5H754.9M109 1316.5H754.9M109 1341.5H754.9M109 1366.5H754.9M109 1391.5H754.9M109 1416.5H754.9M109 1441.5H754.9M109 1466.5H754.9M109 1491.5H754.9M109 1516.5H754.9M109 1541.5H754.9M109 1566.5H754.9"/>
<text x="117.5" y="800.18" font-size="8.8" class="hl" text-anchor="middle" textLength="10.2" lengthAdjust="spacingAndGlyphs">9h</text>
<text x="156.83" y="800.18" font-size="8.8" class="hl" text-anchor="middle" textLength="15.06" lengthAdjust="spacingAndGlyphs">10h</text>
<text x="196.16" y="800.18" font-size="8.8" class="hl" text-anchor="middle" textLength="14.58" lengthAdjust="spacingAndGlyphs">11h</text>
<text x="235.49" y="800.18" font-size="8.8" class="hl" text-anchor="middle" textLength="15.06" lengthAdjust="spacingAndGlyphs">12h</text>
<text x="274.82" y="800.18" font-size="8.8" class="hl" text-anchor="middle" textLength="15.06" lengthAdjust="spacingAndGlyphs">13h</text>
<text x="314.15" y="800.18" font-size="8.8" class="hl" text-anchor="middle" textLength="15.06" lengthAdjust="spacingAndGlyphs">14h</text>
<text x="353.48" y="800.18" font-size="8.8" class="hl" text-anchor="middle" textLength="15.06" lengthAdjust="spacingAndGlyphs">15h</text>
<text x="392.81" y="800.18" font-size="8.8" class="hl" text-anchor="middle" textLength="15.06" lengthAdjust="spacingAndGlyphs">16h</text>
<text x="432.14" y="800.18" font-size="8.8" class="hl" text-anchor="middle" textLength="15.06" lengthAdjust="spacingAndGlyphs">17h</text>
<text x="471.47" y="800.18" font-size="8.8" class="hl" text-anchor="middle" textLength="15.06" lengthAdjust="spacingAndGlyphs">18h</text>
<text x="510.8" y="800.18" font-size="8.8" class="hl" text-anchor="middle" textLength="15.06" lengthAdjust="spacingAndGlyphs">19h</text>
<text x="550.13" y="800.18" font-size="8.8" class="hl" text-anchor="middle" textLength="15.06" lengthAdjust="spacingAndGlyphs">20h</text>
<text x="589.46" y="800.18" font-size="8.8" class="hl" text-anchor="middle" textLength="15.06" lengthAdjust="spacingAndGlyphs">21h</text>
<text x="628.79" y="800.18" font-size="8.8" class="hl" text-anchor="middle" textLength="15.06" lengthAdjust="spacingAndGlyphs">22h</text>
<text x="668.12" y="800.18" font-size="8.8" class="hl" text-anchor="middle" textLength="15.06" lengthAdjust="spacingAndGlyphs">23h</text>
<text x="707.45" y="800.18" font-size="8.8" class="hl" text-anchor="middle" textLength="15.06" lengthAdjust="spacingAndGlyphs">24h</text>
<text x="746.78" y="800.18" font-size="8.8" class="hl" text-anchor="middle" textLength="15.06" lengthAdjust="spacingAndGlyphs">01h</text>
<text x="117.5" y="1589.98" font-size="8.8" class="hl" text-anchor="middle" textLength="10.2" lengthAdjust="spacingAndGlyphs">9h</text>
<text x="156.83" y="1589.98" font-size="8.8" class="hl" text-anchor="middle" textLength="15.06" lengthAdjust="spacingAndGlyphs">10h</text>
<text x="196.16" y="1589.98" font-size="8.8" class="hl" text-anchor="middle" textLength="14.58" lengthAdjust="spacingAndGlyphs">11h</text>
<text x="235.49" y="1589.98" font-size="8.8" class="hl" text-anchor="middle" textLength="15.06" lengthAdjust="spacingAndGlyphs">12h</text>
<text x="274.82" y="1589.98" font-size="8.8" class="hl" text-anchor="middle" textLength="15.06" lengthAdjust="spacingAndGlyphs">13h</text>
<text x="314.15" y="1589.98" font-size="8.8" class="hl" text-anchor="middle" textLength="15.06" lengthAdjust="spacingAndGlyphs">14h</text>
<text x="353.48" y="1589.98" font-size="8.8" class="hl" text-anchor="middle" textLength="15.06" lengthAdjust="spacingAndGlyphs">15h</text>
<text x="392.81" y="1589.98" font-size="8.8" class="hl" text-anchor="middle" textLength="15.06" lengthAdjust="spacingAndGlyphs">16h</text>
<text x="432.14" y="1589.98" font-size="8.8" class="hl" text-anchor="middle" textLength="15.06" lengthAdjust="spacingAndGlyphs">17h</text>
<text x="471.47" y="1589.98" font-size="8.8" class="hl" text-anchor="middle" textLength="15.06" lengthAdjust="spacingAndGlyphs">18h</text>
<text x="510.8" y="1589.98" font-size="8.8" class="hl" text-anchor="middle" textLength="15.06" lengthAdjust="spacingAndGlyphs">19h</text>
<text x="550.13" y="1589.98" font-size="8.8" class="hl" text-anchor="middle" textLength="15.06" lengthAdjust="spacingAndGlyphs">20h</text>
<text x="589.46" y="1589.98" font-size="8.8" class="hl" text-anchor="middle" textLength="15.06" lengthAdjust="spacingAndGlyphs">21h</text>
<text x="628.79" y="1589.98" font-size="8.8" class="hl" text-anchor="middle" textLength="15.06" lengthAdjust="spacingAndGlyphs">22h</text>
<text x="668.12" y="1589.98" font-size="8.8" class="hl" text-anchor="middle" textLength="15.06" lengthAdjust="spacingAndGlyphs">23h</text>
<text x="707.45" y="1589.98" font-size="8.8" class="hl" text-anchor="middle" textLength="15.06" lengthAdjust="spacingAndGlyphs">24h</text>
<text x="746.78" y="1589.98" font-size="8.8" class="hl" text-anchor="middle" textLength="15.06" lengthAdjust="spacingAndGlyphs">01h</text>
<rect x="136.2" y="808.4" width="60" height="14.4" fill="#ffcc00"/>
<rect x="490.4" y="808.4" width="59.7" height="14.4" fill="#ffcc00"/>
<rect x="589.3" y="808.4" width="59.8" height="14.4" fill="#ffcc00"/>
<rect x="196.2" y="833.43" width="39.3" height="14.4" fill="#ffcc00"/>
<rect x="314.4" y="833.43" width="28.1" height="14.4" fill="#ffcc00"/>
<rect x="370.1" y="833.43" width="40.1" height="14.4" fill="#ffcc00"/>
<rect x="432" y="833.43" width="39.2" height="14.4" fill="#ffcc00"/>
<rect x="196.2" y="858.47" width="10.4" height="14.4" fill="#ffcc00"/>
<rect x="275.2" y="858.47" width="18.7" height="14.4" fill="#ffcc00"/>
<rect x="353.6" y="858.47" width="19.2" height="14.4" fill="#ffcc00"/>
<rect x="589.3" y="858.47" width="39.3" height="14.4" fill="#ffcc00"/>
<rect x="235.5" y="883.5" width="196.5" height="14.4" fill="#ffcc00"/>
<rect x="510.5" y="883.5" width="20" height="14.4" fill="#ffcc00"/>
<rect x="235.5" y="908.53" width="11.2" height="14.4" fill="#ffcc00"/>
<rect x="275.2" y="908.53" width="11.1" height="14.4" fill="#ffcc00"/>
<rect x="550.1" y="908.53" width="11.6" height="14.4" fill="#ffcc00"/>
<rect x="589.3" y="908.53" width="11.2" height="14.4" fill="#ffcc00"/>
<rect x="235.5" y="933.56" width="21.9" height="14.4" fill="#ffcc00"/>
<rect x="275.2" y="958.6" width="16" height="14.4" fill="#ffcc00"/>
<rect x="294.8" y="983.63" width="19.6" height="14.4" fill="#ffcc00"/>
<rect x="609" y="983.63" width="49.9" height="14.4" fill="#ffcc00"/>
<rect x="314.4" y="1008.66" width="28.1" height="14.4" fill="#ffcc00"/>
<rect x="410.2" y="1008.66" width="27.6" height="14.4" fill="#ffcc00"/>
<rect x="314.4" y="1033.7" width="28.1" height="14.4" fill="#ffcc00"/>
<rect x="353.6" y="1033.7" width="28.1" height="14.4" fill="#ffcc00"/>
<rect x="392.8" y="1033.7" width="28.1" height="14.4" fill="#ffcc00"/>
<rect x="550.1" y="1033.7" width="28.1" height="14.4" fill="#ffcc00"/>
<rect x="589.3" y="1033.7" width="28.1" height="14.4" fill="#ffcc00"/>
<rect x="628.6" y="1033.7" width="27.6" height="14.4" fill="#ffcc00"/>
<rect x="314.4" y="1058.73" width="235.7" height="14.4" fill="#ffcc00"/>
<rect x="314.4" y="1083.76" width="21.4" height="14.4" fill="#ffcc00"/>
<rect x="369.2" y="1108.8" width="44.1" height="14.4" fill="#ffcc00"/>
<rect x="453.4" y="1108.8" width="37.9" height="14.4" fill="#ffcc00"/>
<rect x="599.6" y="1108.8" width="38.8" height="14.4" fill="#ffcc00"/>
<rect x="392.8" y="1133.83" width="33.4" height="14.4" fill="#ffcc00"/>
<rect x="452.1" y="1133.83" width="39.2" height="14.4" fill="#ffcc00"/>
<rect x="550.1" y="1133.83" width="39.2" height="14.4" fill="#ffcc00"/>
<rect x="648.2" y="1133.83" width="39.6" height="14.4" fill="#ffcc00"/>
<rect x="314.4" y="1158.86" width="12.5" height="14.4" fill="#ffcc00"/>
<rect x="353.8" y="1183.89" width="28.6" height="14.4" fill="#ffcc00"/>
<rect x="510.7" y="1183.89" width="28.1" height="14.4" fill="#ffcc00"/>
<rect x="432.3" y="1208.93" width="49.9" height="14.4" fill="#ffcc00"/>
<rect x="550.4" y="1208.93" width="39.2" height="14.4" fill="#ffcc00"/>
<rect x="432.3" y="1233.96" width="39.2" height="14.4" fill="#ffcc00"/>
<rect x="432.3" y="1258.99" width="39.2" height="14.4" fill="#ffcc00"/>
<rect x="491.5" y="1258.99" width="38.8" height="14.4" fill="#ffcc00"/>
<rect x="451.9" y="1284.03" width="30.7" height="14.4" fill="#ffcc00"/>
<rect x="570.4" y="1284.03" width="43.2" height="14.4" fill="#ffcc00"/>
<rect x="471.5" y="1309.06" width="261.6" height="14.4" fill="#ffcc00"/>
<rect x="471.5" y="1334.09" width="35.6" height="14.4" fill="#ffcc00"/>
<rect x="471.5" y="1359.13" width="34.3" height="14.4" fill="#ffcc00"/>
<rect x="471.7" y="1384.16" width="7.6" height="14.4" fill="#ffcc00"/>
<rect x="491.1" y="1384.16" width="8" height="14.4" fill="#ffcc00"/>
<rect x="510.9" y="1384.16" width="7.6" height="14.4" fill="#ffcc00"/>
<rect x="530.7" y="1384.16" width="7.6" height="14.4" fill="#ffcc00"/>
<rect x="550.5" y="1384.16" width="7.6" height="14.4" fill="#ffcc00"/>
<rect x="569.9" y="1384.16" width="7.5" height="14.4" fill="#ffcc00"/>
<rect x="589.7" y="1384.16" width="7.6" height="14.4" fill="#ffcc00"/>
<rect x="609.1" y="1384.16" width="7.5" height="14.4" fill="#ffcc00"/>
<rect x="471.7" y="1409.19" width="33.1" height="14.4" fill="#ffcc00"/>
<rect x="510.9" y="1409.19" width="33" height="14.4" fill="#ffcc00"/>
<rect x="510.9" y="1434.23" width="33" height="14.4" fill="#ffcc00"/>
<rect x="528.4" y="1459.26" width="122.2" height="14.4" fill="#ffcc00"/>
<rect x="569.9" y="1484.29" width="39.2" height="14.4" fill="#ffcc00"/>
<rect x="569.9" y="1509.32" width="39.2" height="14.4" fill="#ffcc00"/>
<rect x="619" y="1509.32" width="39.1" height="14.4" fill="#ffcc00"/>
<rect x="609.1" y="1534.36" width="9.9" height="14.4" fill="#ffcc00"/>
<rect x="648.2" y="1559.39" width="106.8" height="14.4" fill="url(#fade)"/>
<circle cx="100.8" cy="815.6" r="7.15" fill="#ffdd33"/>
<text x="100.8" y="818.45" font-size="9" class="cn" text-anchor="middle" textLength="11.21" lengthAdjust="spacingAndGlyphs">33</text>
<circle cx="100.8" cy="840.63" r="7.15" fill="#ffdd33"/>
<text x="100.8" y="843.48" font-size="9" class="cn" text-anchor="middle" textLength="5.61" lengthAdjust="spacingAndGlyphs">9</text>
<circle cx="100.8" cy="865.67" r="7.15" fill="#ffdd33"/>
<text x="100.8" y="868.52" font-size="9" class="cn" text-anchor="middle" textLength="11.21" lengthAdjust="spacingAndGlyphs">30</text>
<circle cx="100.8" cy="890.7" r="7.15" fill="#ffdd33"/>
<text x="100.8" y="893.55" font-size="9" class="cn" text-anchor="middle" textLength="11.21" lengthAdjust="spacingAndGlyphs">13</text>
<circle cx="100.8" cy="915.73" r="7.15" fill="#ffdd33"/>
<text x="100.8" y="918.58" font-size="9" class="cn" text-anchor="middle" textLength="10.66" lengthAdjust="spacingAndGlyphs">11</text>
<circle cx="100.8" cy="940.76" r="7.15" fill="#ffdd33"/>
<text x="100.8" y="943.62" font-size="9" class="cn" text-anchor="middle" textLength="11.21" lengthAdjust="spacingAndGlyphs">34</text>
<circle cx="100.8" cy="965.8" r="7.15" fill="#ffdd33"/>
<text x="100.8" y="968.65" font-size="9" class="cn" text-anchor="middle" textLength="11.21" lengthAdjust="spacingAndGlyphs">16</text>
<circle cx="100.8" cy="990.83" r="7.15" fill="#ffdd33"/>
<text x="100.8" y="993.68" font-size="9" class="cn" text-anchor="middle" textLength="5.61" lengthAdjust="spacingAndGlyphs">6</text>
<circle cx="100.8" cy="1015.86" r="7.15" fill="#ffdd33"/>
<text x="100.8" y="1018.71" font-size="9" class="cn" text-anchor="middle" textLength="11.21" lengthAdjust="spacingAndGlyphs">23</text>
<circle cx="100.8" cy="1040.9" r="7.15" fill="#ffdd33"/>
<text x="100.8" y="1043.75" font-size="9" class="cn" text-anchor="middle" textLength="11.21" lengthAdjust="spacingAndGlyphs">14</text>
<circle cx="100.8" cy="1065.93" r="7.15" fill="#ffdd33"/>
<text x="100.8" y="1068.78" font-size="9" class="cn" text-anchor="middle" textLength="5.61" lengthAdjust="spacingAndGlyphs">5</text>
<rect x="87" y="1083.81" width="27.6" height="14.3" rx="7.15" fill="#ffdd33"/>
<text x="89.8" y="1093.81" font-size="9" class="cn" textLength="17.7" lengthAdjust="spacingAndGlyphs">22A</text>
<text x="107.7" y="1094.16" font-size="9.5" class="st" textLength="4.6" lengthAdjust="spacingAndGlyphs">*</text>
<rect x="87" y="1108.85" width="27.6" height="14.3" rx="7.15" fill="#ffdd33"/>
<text x="89.8" y="1118.85" font-size="9" class="cn" textLength="17.7" lengthAdjust="spacingAndGlyphs">22B</text>
<text x="107.7" y="1119.2" font-size="9.5" class="st" textLength="4.6" lengthAdjust="spacingAndGlyphs">*</text>
<rect x="87" y="1133.88" width="27.6" height="14.3" rx="7.15" fill="#ffdd33"/>
<text x="89.8" y="1143.88" font-size="9" class="cn" textLength="17.7" lengthAdjust="spacingAndGlyphs">22C</text>
<text x="107.7" y="1144.23" font-size="9.5" class="st" textLength="4.6" lengthAdjust="spacingAndGlyphs">*</text>
<circle cx="100.8" cy="1166.06" r="7.15" fill="#ffdd33"/>
<text x="100.8" y="1168.91" font-size="9" class="cn" text-anchor="middle" textLength="11.21" lengthAdjust="spacingAndGlyphs">21</text>
<circle cx="100.8" cy="1191.1" r="7.15" fill="#ffdd33"/>
<text x="100.8" y="1193.94" font-size="9" class="cn" text-anchor="middle" textLength="11.21" lengthAdjust="spacingAndGlyphs">20</text>
<circle cx="100.8" cy="1216.13" r="7.15" fill="#ffdd33"/>
<text x="100.8" y="1218.98" font-size="9" class="cn" text-anchor="middle" textLength="11.21" lengthAdjust="spacingAndGlyphs">29</text>
<circle cx="100.8" cy="1241.16" r="7.15" fill="#ffdd33"/>
<text x="100.8" y="1244.01" font-size="9" class="cn" text-anchor="middle" textLength="5.61" lengthAdjust="spacingAndGlyphs">7</text>
<circle cx="100.8" cy="1266.19" r="7.15" fill="#ffdd33"/>
<text x="100.8" y="1269.04" font-size="9" class="cn" text-anchor="middle" textLength="5.61" lengthAdjust="spacingAndGlyphs">4</text>
<circle cx="100.8" cy="1291.23" r="7.15" fill="#ffdd33"/>
<text x="100.8" y="1294.08" font-size="9" class="cn" text-anchor="middle" textLength="5.61" lengthAdjust="spacingAndGlyphs">2</text>
<circle cx="100.8" cy="1316.26" r="7.15" fill="#ffdd33"/>
<text x="100.8" y="1319.11" font-size="9" class="cn" text-anchor="middle" textLength="11.21" lengthAdjust="spacingAndGlyphs">24</text>
<circle cx="100.8" cy="1341.29" r="7.15" fill="#ffdd33"/>
<text x="100.8" y="1344.14" font-size="9" class="cn" text-anchor="middle" textLength="11.21" lengthAdjust="spacingAndGlyphs">10</text>
<circle cx="100.8" cy="1366.33" r="7.15" fill="#ffdd33"/>
<text x="100.8" y="1369.18" font-size="9" class="cn" text-anchor="middle" textLength="11.21" lengthAdjust="spacingAndGlyphs">28</text>
<circle cx="100.8" cy="1391.36" r="7.15" fill="#ffdd33"/>
<text x="100.8" y="1394.21" font-size="9" class="cn" text-anchor="middle" textLength="11.21" lengthAdjust="spacingAndGlyphs">25</text>
<circle cx="100.8" cy="1416.39" r="7.15" fill="#ffdd33"/>
<text x="100.8" y="1419.24" font-size="9" class="cn" text-anchor="middle" textLength="11.21" lengthAdjust="spacingAndGlyphs">38</text>
<circle cx="100.8" cy="1441.43" r="7.15" fill="#ffdd33"/>
<text x="100.8" y="1444.28" font-size="9" class="cn" text-anchor="middle" textLength="11.21" lengthAdjust="spacingAndGlyphs">26</text>
<circle cx="100.8" cy="1466.46" r="7.15" fill="#ffdd33"/>
<text x="100.8" y="1469.31" font-size="9" class="cn" text-anchor="middle" textLength="11.21" lengthAdjust="spacingAndGlyphs">19</text>
<circle cx="100.8" cy="1491.49" r="7.15" fill="#ffdd33"/>
<text x="100.8" y="1494.34" font-size="9" class="cn" text-anchor="middle" textLength="11.21" lengthAdjust="spacingAndGlyphs">23</text>
<circle cx="100.8" cy="1516.52" r="7.15" fill="#ffdd33"/>
<text x="100.8" y="1519.37" font-size="9" class="cn" text-anchor="middle" textLength="11.21" lengthAdjust="spacingAndGlyphs">36</text>
<circle cx="100.8" cy="1541.56" r="7.15" fill="#ffdd33"/>
<text x="100.8" y="1544.41" font-size="9" class="cn" text-anchor="middle" textLength="5.61" lengthAdjust="spacingAndGlyphs">1</text>
<circle cx="100.8" cy="1566.59" r="7.15" fill="#ffdd33"/>
<text x="100.8" y="1569.44" font-size="9" class="cn" text-anchor="middle" textLength="11.21" lengthAdjust="spacingAndGlyphs">27</text>
<text x="120.2" y="818.2" font-size="8" class="ev" textLength="129.6" lengthAdjust="spacingAndGlyphs">Swiss Foundation for Young Musicians</text>
<text x="499.3" y="818.2" font-size="8" class="ev" textLength="130.1" lengthAdjust="spacingAndGlyphs">Swiss Foundation for Young Musicians</text>
<text x="188.2" y="843.23" font-size="8" class="ev" textLength="57.2" lengthAdjust="spacingAndGlyphs">Giovanni Tardino</text>
<text x="297" y="843.23" font-size="8" class="ev" textLength="56.2" lengthAdjust="spacingAndGlyphs">Fanny Pestalozzi</text>
<text x="366.1" y="843.23" font-size="8" class="ev" textLength="48.1" lengthAdjust="spacingAndGlyphs">Johanna Bartz</text>
<text x="422.7" y="843.23" font-size="8" class="ev" textLength="57.9" lengthAdjust="spacingAndGlyphs">Giovanni Tardino</text>
<text x="164.5" y="868.27" font-size="8" class="ev" textLength="77.1" lengthAdjust="spacingAndGlyphs">Nicoleta Paraschivescu</text>
<text x="263.2" y="868.27" font-size="8" class="ev" textLength="139.4" lengthAdjust="spacingAndGlyphs">Sänger*innen der Musikschule Jazz Basel</text>
<text x="536.3" y="868.27" font-size="8" class="ev" textLength="145.3" lengthAdjust="spacingAndGlyphs">TITSWWK &amp; Sarah Reid &amp; Basler Beizenchor</text>
<text x="311.3" y="893.3" font-size="8" class="ev" textLength="45.4" lengthAdjust="spacingAndGlyphs">Set and Reset</text>
<text x="471.7" y="893.3" font-size="8" class="ev" textLength="134.6" lengthAdjust="spacingAndGlyphs">Filmscreening: Deux Soniles &amp; Soniletic</text>
<text x="231.1" y="918.33" font-size="8" class="ev" textLength="60.1" lengthAdjust="spacingAndGlyphs">ReConvert Project</text>
<text x="546.1" y="918.33" font-size="8" class="ev" textLength="60.2" lengthAdjust="spacingAndGlyphs">ReConvert Project</text>
<text x="221.3" y="943.37" font-size="8" class="ev" textLength="50.8" lengthAdjust="spacingAndGlyphs">Andreas Liebig</text>
<text x="195" y="968.4" font-size="8" class="ev" textLength="193.8" lengthAdjust="spacingAndGlyphs">Blechwind &amp; Trompetenensemble der Musikschule Basel</text>
<text x="252.5" y="993.43" font-size="8" class="ev" textLength="103.8" lengthAdjust="spacingAndGlyphs">Musikschule Musik Trotz Allem</text>
<text x="551.9" y="993.43" font-size="8" class="ev" textLength="164" lengthAdjust="spacingAndGlyphs">Noti Wumié &amp; Ensemble Sinfonieorchester Basel</text>
<text x="297.9" y="1018.46" font-size="8" class="ev" textLength="58.4" lengthAdjust="spacingAndGlyphs">Trio Jeu de Cartes</text>
<text x="403.5" y="1018.46" font-size="8" class="ev" textLength="38.8" lengthAdjust="spacingAndGlyphs">Marcel Zaes</text>
<text x="311.3" y="1043.5" font-size="8" class="ev" textLength="41" lengthAdjust="spacingAndGlyphs">Bass drop in</text>
<text x="377.2" y="1043.5" font-size="8" class="ev" textLength="40.1" lengthAdjust="spacingAndGlyphs">Bass drop in</text>
<text x="547.5" y="1043.5" font-size="8" class="ev" textLength="40.5" lengthAdjust="spacingAndGlyphs">Bass drop in</text>
<text x="612.5" y="1043.5" font-size="8" class="ev" textLength="41" lengthAdjust="spacingAndGlyphs">Bass drop in</text>
<text x="356.3" y="1068.53" font-size="8" class="ev" textLength="151.9" lengthAdjust="spacingAndGlyphs">Homatark &amp; Mobilitätswoche Basel Dreiland</text>
<text x="255.1" y="1093.56" font-size="8" class="ev" textLength="137.7" lengthAdjust="spacingAndGlyphs">Mixed Ensemble, Talentförderklasse Jazz</text>
<text x="274.7" y="1118.6" font-size="8" class="ev" textLength="154.2" lengthAdjust="spacingAndGlyphs">BuchBasel: Thom Nagy und Julia von Lucadou</text>
<text x="446.7" y="1118.6" font-size="8" class="ev" textLength="78.5" lengthAdjust="spacingAndGlyphs">Lucas Johnson Quintett</text>
<text x="604" y="1118.6" font-size="8" class="ev" textLength="31.2" lengthAdjust="spacingAndGlyphs">FronTTon</text>
<text x="299.3" y="1143.63" font-size="8" class="ev" textLength="132.7" lengthAdjust="spacingAndGlyphs">Linda Loosli, Alena Sojer, Pascale Pfeuti</text>
<text x="453" y="1143.63" font-size="8" class="ev" textLength="37.9" lengthAdjust="spacingAndGlyphs">Tradiophon</text>
<text x="530.5" y="1143.63" font-size="8" class="ev" textLength="81.1" lengthAdjust="spacingAndGlyphs">Lisette Spinnler Quartet</text>
<text x="645" y="1143.63" font-size="8" class="ev" textLength="46.4" lengthAdjust="spacingAndGlyphs">Kaleidoscope</text>
<text x="278.3" y="1164.46" font-size="8" class="ev" textLength="83.3" lengthAdjust="spacingAndGlyphs">Gamelangruppe der Mu-</text>
<text x="285.4" y="1172.46" font-size="8" class="ev" textLength="69.1" lengthAdjust="spacingAndGlyphs">sik-Akademie Basel</text>
<text x="348.9" y="1193.69" font-size="8" class="ev" textLength="37" lengthAdjust="spacingAndGlyphs">David Hohl</text>
<text x="507.1" y="1193.69" font-size="8" class="ev" textLength="37.5" lengthAdjust="spacingAndGlyphs">David Hohl</text>
<text x="428.3" y="1218.73" font-size="8" class="ev" textLength="58.8" lengthAdjust="spacingAndGlyphs">Jermaine Sprosse</text>
<text x="516.7" y="1218.73" font-size="8" class="ev" textLength="146.8" lengthAdjust="spacingAndGlyphs">Mateusz Kaminski &amp; Cosmofonia Ensemble</text>
<text x="433.6" y="1243.76" font-size="8" class="ev" textLength="37.9" lengthAdjust="spacingAndGlyphs">Schö à Deux</text>
<text x="385.5" y="1268.79" font-size="8" class="ev" textLength="85.1" lengthAdjust="spacingAndGlyphs">Taubitz-Vianna-Kurmann</text>
<text x="496.4" y="1268.79" font-size="8" class="ev" textLength="29.9" lengthAdjust="spacingAndGlyphs">Xipenda</text>
<text x="454.1" y="1293.83" font-size="8" class="ev" textLength="26.7" lengthAdjust="spacingAndGlyphs">Girr Duo</text>
<text x="574" y="1293.83" font-size="8" class="ev" textLength="35.6" lengthAdjust="spacingAndGlyphs">Cell of Hell</text>
<text x="524.1" y="1318.86" font-size="8" class="ev" textLength="156.8" lengthAdjust="spacingAndGlyphs">4.0.5.8, Lexx, The Jimmy Miller Incident, Dylan</text>
<text x="463" y="1343.89" font-size="8" class="ev" textLength="52.6" lengthAdjust="spacingAndGlyphs">Christian Sutter</text>
<text x="475.5" y="1368.93" font-size="8" class="ev" textLength="27.6" lengthAdjust="spacingAndGlyphs">Jüützigs</text>
<text x="488.2" y="1393.96" font-size="8" class="ev" textLength="113.8" lengthAdjust="spacingAndGlyphs">Milieux Vanilieux aka Molto Bene</text>
<text x="420.3" y="1418.99" font-size="8" class="ev" textLength="176.5" lengthAdjust="spacingAndGlyphs">Paul Hanmer &amp; Derek Gripper feat. Hopkinson Smith</text>
<text x="487.3" y="1444.03" font-size="8" class="ev" textLength="82.1" lengthAdjust="spacingAndGlyphs">Alexandra &amp; Katya Polin</text>
<text x="567.5" y="1469.06" font-size="8" class="ev" textLength="44.4" lengthAdjust="spacingAndGlyphs">Anklin I Oron</text>
<text x="529.8" y="1494.09" font-size="8" class="ev" textLength="119.8" lengthAdjust="spacingAndGlyphs">Sarah Chaksad Orchestra feat. Mix!t</text>
<text x="559" y="1519.12" font-size="8" class="ev" textLength="110" lengthAdjust="spacingAndGlyphs">Swiss South African Jazz Quintet</text>
<text x="537.8" y="1544.16" font-size="8" class="ev" textLength="152.4" lengthAdjust="spacingAndGlyphs">Musikschule der Schola Cantorum Basiliensis</text>
<text x="677" y="1569.19" font-size="8" class="ev" textLength="48.6" lengthAdjust="spacingAndGlyphs">Zola &amp; Friends</text>
</g>
<g>
<text transform="translate(330.2 1649.4) scale(0.72 1)" font-size="18.3" class="ti" letter-spacing="4.36" word-spacing="2.08" textLength="256.59" lengthAdjust="spacing">ZEITPLAN SONNTAG</text>
<path class="gr" d="M117.5 1696.3V2361.5M156.5 1696.3V2361.5M196.5 1696.3V2361.5M235.5 1696.3V2361.5M274.5 1696.3V2361.5M314.5 1696.3V2361.5M353.5 1696.3V2361.5M392.5 1696.3V2361.5M432.5 1696.3V2361.5M471.5 1696.3V2361.5M510.5 1696.3V2361.5M550.5 1696.3V2361.5M589.5 1696.3V2361.5M628.5 1696.3V2361.5M668.5 1696.3V2361.5M707.5 1696.3V2361.5M746.5 1696.3V2361.5M109 1703.5H754.9M109 1728.5H754.9M109 1753.5H754.9M109 1778.5H754.9M114.6 1803.5H754.9M114.6 1828.5H754.9M109 1853.5H754.9M109 1878.5H754.9M109 1903.5H754.9M114.6 1928.5H754.9M109 1953.5H754.9M109 1978.5H754.9M114.6 2003.5H754.9M109 2028.5H754.9M109 2053.5H754.9M109 2078.5H754.9M114.6 2103.5H754.9M109 2128.5H754.9M109 2153.5H754.9M109 2178.5H754.9M114.6 2203.5H754.9M109 2228.5H754.9M109 2254.5H754.9M109 2279.5H754.9M109 2304.5H754.9M114.6 2329.5H754.9M109 2354.5H754.9"/>
<text x="117.5" y="1687.78" font-size="8.8" class="hl" text-anchor="middle" textLength="10.2" lengthAdjust="spacingAndGlyphs">7h</text>
<text x="156.83" y="1687.78" font-size="8.8" class="hl" text-anchor="middle" textLength="10.2" lengthAdjust="spacingAndGlyphs">8h</text>
<text x="196.16" y="1687.78" font-size="8.8" class="hl" text-anchor="middle" textLength="10.2" lengthAdjust="spacingAndGlyphs">9h</text>
<text x="235.49" y="1687.78" font-size="8.8" class="hl" text-anchor="middle" textLength="15.06" lengthAdjust="spacingAndGlyphs">10h</text>
<text x="274.82" y="1687.78" font-size="8.8" class="hl" text-anchor="middle" textLength="14.58" lengthAdjust="spacingAndGlyphs">11h</text>
<text x="314.15" y="1687.78" font-size="8.8" class="hl" text-anchor="middle" textLength="15.06" lengthAdjust="spacingAndGlyphs">12h</text>
<text x="353.48" y="1687.78" font-size="8.8" class="hl" text-anchor="middle" textLength="15.06" lengthAdjust="spacingAndGlyphs">13h</text>
<text x="392.81" y="1687.78" font-size="8.8" class="hl" text-anchor="middle" textLength="15.06" lengthAdjust="spacingAndGlyphs">14h</text>
<text x="432.14" y="1687.78" font-size="8.8" class="hl" text-anchor="middle" textLength="15.06" lengthAdjust="spacingAndGlyphs">15h</text>
<text x="471.47" y="1687.78" font-size="8.8" class="hl" text-anchor="middle" textLength="15.06" lengthAdjust="spacingAndGlyphs">16h</text>
<text x="510.8" y="1687.78" font-size="8.8" class="hl" text-anchor="middle" textLength="15.06" lengthAdjust="spacingAndGlyphs">17h</text>
<text x="550.13" y="1687.78" font-size="8.8" class="hl" text-anchor="middle" textLength="15.06" lengthAdjust="spacingAndGlyphs">18h</text>
<text x="589.46" y="1687.78" font-size="8.8" class="hl" text-anchor="middle" textLength="15.06" lengthAdjust="spacingAndGlyphs">19h</text>
<text x="628.79" y="1687.78" font-size="8.8" class="hl" text-anchor="middle" textLength="15.06" lengthAdjust="spacingAndGlyphs">20h</text>
<text x="668.12" y="1687.78" font-size="8.8" class="hl" text-anchor="middle" textLength="15.06" lengthAdjust="spacingAndGlyphs">21h</text>
<text x="707.45" y="1687.78" font-size="8.8" class="hl" text-anchor="middle" textLength="15.06" lengthAdjust="spacingAndGlyphs">22h</text>
<text x="746.78" y="1687.78" font-size="8.8" class="hl" text-anchor="middle" textLength="15.06" lengthAdjust="spacingAndGlyphs">23h</text>
<text x="117.5" y="2377.18" font-size="8.8" class="hl" text-anchor="middle" textLength="10.2" lengthAdjust="spacingAndGlyphs">7h</text>
<text x="156.83" y="2377.18" font-size="8.8" class="hl" text-anchor="middle" textLength="10.2" lengthAdjust="spacingAndGlyphs">8h</text>
<text x="196.16" y="2377.18" font-size="8.8" class="hl" text-anchor="middle" textLength="10.2" lengthAdjust="spacingAndGlyphs">9h</text>
<text x="235.49" y="2377.18" font-size="8.8" class="hl" text-anchor="middle" textLength="15.06" lengthAdjust="spacingAndGlyphs">10h</text>
<text x="274.82" y="2377.18" font-size="8.8" class="hl" text-anchor="middle" textLength="14.58" lengthAdjust="spacingAndGlyphs">11h</text>
<text x="314.15" y="2377.18" font-size="8.8" class="hl" text-anchor="middle" textLength="15.06" lengthAdjust="spacingAndGlyphs">12h</text>
<text x="353.48" y="2377.18" font-size="8.8" class="hl" text-anchor="middle" textLength="15.06" lengthAdjust="spacingAndGlyphs">13h</text>
<text x="392.81" y="2377.18" font-size="8.8" class="hl" text-anchor="middle" textLength="15.06" lengthAdjust="spacingAndGlyphs">14h</text>
<text x="432.14" y="2377.18" font-size="8.8" class="hl" text-anchor="middle" textLength="15.06" lengthAdjust="spacingAndGlyphs">15h</text>
<text x="471.47" y="2377.18" font-size="8.8" class="hl" text-anchor="middle" textLength="15.06" lengthAdjust="spacingAndGlyphs">16h</text>
<text x="510.8" y="2377.18" font-size="8.8" class="hl" text-anchor="middle" textLength="15.06" lengthAdjust="spacingAndGlyphs">17h</text>
<text x="550.13" y="2377.18" font-size="8.8" class="hl" text-anchor="middle" textLength="15.06" lengthAdjust="spacingAndGlyphs">18h</text>
<text x="589.46" y="2377.18" font-size="8.8" class="hl" text-anchor="middle" textLength="15.06" lengthAdjust="spacingAndGlyphs">19h</text>
<text x="628.79" y="2377.18" font-size="8.8" class="hl" text-anchor="middle" textLength="15.06" lengthAdjust="spacingAndGlyphs">20h</text>
<text x="668.12" y="2377.18" font-size="8.8" class="hl" text-anchor="middle" textLength="15.06" lengthAdjust="spacingAndGlyphs">21h</text>
<text x="707.45" y="2377.18" font-size="8.8" class="hl" text-anchor="middle" textLength="15.06" lengthAdjust="spacingAndGlyphs">22h</text>
<text x="746.78" y="2377.18" font-size="8.8" class="hl" text-anchor="middle" textLength="15.06" lengthAdjust="spacingAndGlyphs">23h</text>
<rect x="176.3" y="1696" width="39.6" height="14.4" fill="#41a4de"/>
<rect x="432.1" y="1696" width="10.2" height="14.4" fill="#41a4de"/>
<rect x="215.9" y="1721.02" width="58.8" height="14.4" fill="#41a4de"/>
<rect x="294.4" y="1721.02" width="39.6" height="14.4" fill="#41a4de"/>
<rect x="225.3" y="1746.05" width="29.8" height="14.4" fill="#41a4de"/>
<rect x="334" y="1746.05" width="29.9" height="14.4" fill="#41a4de"/>
<rect x="432.1" y="1746.05" width="49.5" height="14.4" fill="#41a4de"/>
<rect x="235.5" y="1771.07" width="39.2" height="14.4" fill="#41a4de"/>
<rect x="432.1" y="1771.07" width="29.4" height="14.4" fill="#41a4de"/>
<rect x="511" y="1771.07" width="29.8" height="14.4" fill="#41a4de"/>
<rect x="255.1" y="1796.09" width="16.5" height="14.4" fill="#41a4de"/>
<rect x="373.2" y="1796.09" width="16.5" height="14.4" fill="#41a4de"/>
<rect x="451.7" y="1796.09" width="16.5" height="14.4" fill="#41a4de"/>
<rect x="274.7" y="1821.12" width="39.7" height="14.4" fill="#41a4de"/>
<rect x="471.3" y="1821.12" width="39.7" height="14.4" fill="#41a4de"/>
<rect x="274.7" y="1846.14" width="29.4" height="14.4" fill="#41a4de"/>
<rect x="314.4" y="1846.14" width="29.4" height="14.4" fill="#41a4de"/>
<rect x="274.7" y="1871.16" width="49.5" height="14.4" fill="#41a4de"/>
<rect x="314.4" y="1896.18" width="117.7" height="14.4" fill="#41a4de"/>
<rect x="511" y="1896.18" width="9.8" height="14.4" fill="#41a4de"/>
<rect x="589.4" y="1896.18" width="10.2" height="14.4" fill="#41a4de"/>
<rect x="314.4" y="1921.21" width="196.6" height="14.4" fill="#41a4de"/>
<rect x="314.4" y="1946.23" width="235.8" height="14.4" fill="#41a4de"/>
<rect x="314.4" y="1971.25" width="19.6" height="14.4" fill="#41a4de"/>
<rect x="334" y="1996.28" width="39.2" height="14.4" fill="#41a4de"/>
<rect x="530.1" y="1996.28" width="39.7" height="14.4" fill="#41a4de"/>
<rect x="334" y="2021.3" width="19.6" height="14.4" fill="#41a4de"/>
<rect x="412.5" y="2021.3" width="19.6" height="14.4" fill="#41a4de"/>
<rect x="491.4" y="2021.3" width="19.6" height="14.4" fill="#41a4de"/>
<rect x="353.6" y="2046.32" width="39.2" height="14.4" fill="#41a4de"/>
<rect x="432.1" y="2046.32" width="26.3" height="14.4" fill="#41a4de"/>
<rect x="392.8" y="2071.34" width="39.2" height="14.4" fill="#41a4de"/>
<rect x="392.8" y="2096.37" width="33" height="14.4" fill="#41a4de"/>
<rect x="392.8" y="2121.39" width="19.6" height="14.4" fill="#41a4de"/>
<rect x="569.3" y="2121.39" width="33.4" height="14.4" fill="#41a4de"/>
<rect x="412.4" y="2146.41" width="137.7" height="14.4" fill="#41a4de"/>
<rect x="432" y="2171.44" width="118.1" height="14.4" fill="#41a4de"/>
<rect x="451.7" y="2196.46" width="39.2" height="14.4" fill="#41a4de"/>
<rect x="471.3" y="2221.48" width="39.6" height="14.4" fill="#41a4de"/>
<rect x="530.5" y="2221.48" width="39.2" height="14.4" fill="#41a4de"/>
<rect x="471.3" y="2246.51" width="26.3" height="14.4" fill="#41a4de"/>
<rect x="510.9" y="2246.51" width="26.3" height="14.4" fill="#41a4de"/>
<rect x="491.4" y="2271.53" width="25.8" height="14.4" fill="#41a4de"/>
<rect x="491.4" y="2296.55" width="39.2" height="14.4" fill="#41a4de"/>
<rect x="589.4" y="2296.55" width="39.2" height="14.4" fill="#41a4de"/>
<rect x="511" y="2321.57" width="39.2" height="14.4" fill="#41a4de"/>
<rect x="550.2" y="2346.6" width="39.2" height="14.4" fill="#41a4de"/>
<circle cx="100.8" cy="1703.5" r="7.15" fill="#ffdd33"/>
<text x="100.8" y="1706.35" font-size="9" class="cn" text-anchor="middle" textLength="11.21" lengthAdjust="spacingAndGlyphs">22</text>
<circle cx="100.8" cy="1728.52" r="7.15" fill="#ffdd33"/>
<text x="100.8" y="1731.37" font-size="9" class="cn" text-anchor="middle" textLength="11.21" lengthAdjust="spacingAndGlyphs">33</text>
<circle cx="100.8" cy="1753.55" r="7.15" fill="#ffdd33"/>
<text x="100.8" y="1756.4" font-size="9" class="cn" text-anchor="middle" textLength="11.21" lengthAdjust="spacingAndGlyphs">17</text>
<circle cx="100.8" cy="1778.57" r="7.15" fill="#ffdd33"/>
<text x="100.8" y="1781.42" font-size="9" class="cn" text-anchor="middle" textLength="5.61" lengthAdjust="spacingAndGlyphs">9</text>
<rect x="87" y="1796.44" width="27.6" height="14.3" rx="7.15" fill="#ffdd33"/>
<text x="89.6" y="1806.44" font-size="9" class="cn" textLength="15.5" lengthAdjust="spacingAndGlyphs">32A</text>
<text x="105.3" y="1806.79" font-size="9.5" class="st" textLength="8.4" lengthAdjust="spacingAndGlyphs">**</text>
<rect x="87" y="1821.46" width="27.6" height="14.3" rx="7.15" fill="#ffdd33"/>
<text x="89.6" y="1831.46" font-size="9" class="cn" textLength="15.5" lengthAdjust="spacingAndGlyphs">32B</text>
<text x="105.3" y="1831.82" font-size="9.5" class="st" textLength="8.4" lengthAdjust="spacingAndGlyphs">**</text>
<circle cx="100.8" cy="1853.64" r="7.15" fill="#ffdd33"/>
<text x="100.8" y="1856.49" font-size="9" class="cn" text-anchor="middle" textLength="11.21" lengthAdjust="spacingAndGlyphs">26</text>
<circle cx="100.8" cy="1878.66" r="7.15" fill="#ffdd33"/>
<text x="100.8" y="1881.51" font-size="9" class="cn" text-anchor="middle" textLength="11.21" lengthAdjust="spacingAndGlyphs">37</text>
<circle cx="100.8" cy="1903.68" r="7.15" fill="#ffdd33"/>
<text x="100.8" y="1906.53" font-size="9" class="cn" text-anchor="middle" textLength="11.21" lengthAdjust="spacingAndGlyphs">13</text>
<rect x="87" y="1921.56" width="27.6" height="14.3" rx="7.15" fill="#ffdd33"/>
<text x="89.6" y="1931.56" font-size="9" class="cn" textLength="15.5" lengthAdjust="spacingAndGlyphs">32C</text>
<text x="105.3" y="1931.91" font-size="9.5" class="st" textLength="8.4" lengthAdjust="spacingAndGlyphs">**</text>
<circle cx="100.8" cy="1953.73" r="7.15" fill="#ffdd33"/>
<text x="100.8" y="1956.58" font-size="9" class="cn" text-anchor="middle" textLength="11.21" lengthAdjust="spacingAndGlyphs">14</text>
<circle cx="100.8" cy="1978.75" r="7.15" fill="#ffdd33"/>
<text x="100.8" y="1981.6" font-size="9" class="cn" text-anchor="middle" textLength="11.21" lengthAdjust="spacingAndGlyphs">28</text>
<rect x="87" y="1996.63" width="27.6" height="14.3" rx="7.15" fill="#ffdd33"/>
<text x="89.6" y="2006.63" font-size="9" class="cn" textLength="15.5" lengthAdjust="spacingAndGlyphs">32D</text>
<text x="105.3" y="2006.98" font-size="9.5" class="st" textLength="8.4" lengthAdjust="spacingAndGlyphs">**</text>
<circle cx="100.8" cy="2028.8" r="7.15" fill="#ffdd33"/>
<text x="100.8" y="2031.65" font-size="9" class="cn" text-anchor="middle" textLength="11.21" lengthAdjust="spacingAndGlyphs">15</text>
<circle cx="100.8" cy="2053.82" r="7.15" fill="#ffdd33"/>
<text x="100.8" y="2056.67" font-size="9" class="cn" text-anchor="middle" textLength="11.21" lengthAdjust="spacingAndGlyphs">20</text>
<circle cx="100.8" cy="2078.84" r="7.15" fill="#ffdd33"/>
<text x="100.8" y="2081.69" font-size="9" class="cn" text-anchor="middle" textLength="11.21" lengthAdjust="spacingAndGlyphs">21</text>
<rect x="87" y="2096.72" width="27.6" height="14.3" rx="7.15" fill="#ffdd33"/>
<text x="89.8" y="2106.72" font-size="9" class="cn" textLength="17.7" lengthAdjust="spacingAndGlyphs">22C</text>
<text x="107.7" y="2107.07" font-size="9.5" class="st" textLength="4.6" lengthAdjust="spacingAndGlyphs">*</text>
<circle cx="100.8" cy="2128.89" r="7.15" fill="#ffdd33"/>
<text x="100.8" y="2131.74" font-size="9" class="cn" text-anchor="middle" textLength="5.61" lengthAdjust="spacingAndGlyphs">6</text>
<circle cx="100.8" cy="2153.91" r="7.15" fill="#ffdd33"/>
<text x="100.8" y="2156.76" font-size="9" class="cn" text-anchor="middle" textLength="11.21" lengthAdjust="spacingAndGlyphs">12</text>
<circle cx="100.8" cy="2178.94" r="7.15" fill="#ffdd33"/>
<text x="100.8" y="2181.79" font-size="9" class="cn" text-anchor="middle" textLength="11.21" lengthAdjust="spacingAndGlyphs">35</text>
<rect x="87" y="2196.81" width="27.6" height="14.3" rx="7.15" fill="#ffdd33"/>
<text x="89.8" y="2206.81" font-size="9" class="cn" textLength="17.7" lengthAdjust="spacingAndGlyphs">22A</text>
<text x="107.7" y="2207.16" font-size="9.5" class="st" textLength="4.6" lengthAdjust="spacingAndGlyphs">*</text>
<circle cx="100.8" cy="2228.98" r="7.15" fill="#ffdd33"/>
<text x="100.8" y="2231.83" font-size="9" class="cn" text-anchor="middle" textLength="5.61" lengthAdjust="spacingAndGlyphs">4</text>
<circle cx="100.8" cy="2254.01" r="7.15" fill="#ffdd33"/>
<text x="100.8" y="2256.86" font-size="9" class="cn" text-anchor="middle" textLength="11.21" lengthAdjust="spacingAndGlyphs">38</text>
<circle cx="100.8" cy="2279.03" r="7.15" fill="#ffdd33"/>
<text x="100.8" y="2281.88" font-size="9" class="cn" text-anchor="middle" textLength="5.61" lengthAdjust="spacingAndGlyphs">8</text>
<circle cx="100.8" cy="2304.05" r="7.15" fill="#ffdd33"/>
<text x="100.8" y="2306.9" font-size="9" class="cn" text-anchor="middle" textLength="11.21" lengthAdjust="spacingAndGlyphs">18</text>
<rect x="87" y="2321.92" width="27.6" height="14.3" rx="7.15" fill="#ffdd33"/>
<text x="89.8" y="2331.92" font-size="9" class="cn" textLength="17.7" lengthAdjust="spacingAndGlyphs">22B</text>
<text x="107.7" y="2332.27" font-size="9.5" class="st" textLength="4.6" lengthAdjust="spacingAndGlyphs">*</text>
<circle cx="100.8" cy="2354.1" r="7.15" fill="#ffdd33"/>
<text x="100.8" y="2356.95" font-size="9" class="cn" text-anchor="middle" textLength="5.61" lengthAdjust="spacingAndGlyphs">3</text>
<text x="195.9" y="1706.1" font-size="8" class="ev" textLength="62.4" lengthAdjust="spacingAndGlyphs">Florian Hohnhorst</text>
<text x="409.4" y="1706.1" font-size="8" class="ev" textLength="55.7" lengthAdjust="spacingAndGlyphs">Dominik Dolega</text>
<text x="215.9" y="1726.72" font-size="8" class="ev" textLength="60.6" lengthAdjust="spacingAndGlyphs">Swiss Foundation</text>
<text x="212.4" y="1735.12" font-size="8" class="ev" textLength="67.7" lengthAdjust="spacingAndGlyphs">for Young Musicians</text>
<text x="283.2" y="1731.12" font-size="8" class="ev" textLength="62" lengthAdjust="spacingAndGlyphs">Florian Hohnhorst</text>
<text x="264.9" y="1756.15" font-size="8" class="ev" textLength="58.9" lengthAdjust="spacingAndGlyphs">Basel Sinfonietta</text>
<text x="433" y="1756.15" font-size="8" class="ev" textLength="48.6" lengthAdjust="spacingAndGlyphs">Sing Out Loud!</text>
<text x="226.6" y="1781.17" font-size="8" class="ev" textLength="57.9" lengthAdjust="spacingAndGlyphs">Giovanni Tardino</text>
<text x="418.7" y="1781.17" font-size="8" class="ev" textLength="56.6" lengthAdjust="spacingAndGlyphs">Fanny Pestalozzi</text>
<text x="501.6" y="1781.17" font-size="8" class="ev" textLength="47.2" lengthAdjust="spacingAndGlyphs">Tobias Cramm</text>
<text x="322.9" y="1806.19" font-size="8" class="ev" textLength="78" lengthAdjust="spacingAndGlyphs">Figurentheater Felucca</text>
<text x="239.5" y="1831.21" font-size="8" class="ev" textLength="110.1" lengthAdjust="spacingAndGlyphs">Nadia Oberli und Vittoria Pagani</text>
<text x="466" y="1831.21" font-size="8" class="ev" textLength="49.4" lengthAdjust="spacingAndGlyphs">Café da Manhã</text>
<text x="280.1" y="1856.24" font-size="8" class="ev" textLength="58.8" lengthAdjust="spacingAndGlyphs">Simon Wunderlin</text>
<text x="259.1" y="1881.26" font-size="8" class="ev" textLength="80.7" lengthAdjust="spacingAndGlyphs">Sinfonieorchester Basel</text>
<text x="350.5" y="1906.28" font-size="8" class="ev" textLength="46.3" lengthAdjust="spacingAndGlyphs">Set and Reset</text>
<text x="507" y="1906.28" font-size="8" class="ev" textLength="96.7" lengthAdjust="spacingAndGlyphs">Performance: Hammer Band</text>
<text x="353.6" y="1931.31" font-size="8" class="ev" textLength="117.7" lengthAdjust="spacingAndGlyphs">Workshop Helvetiarockt (walk-in)</text>
<text x="350.9" y="1956.33" font-size="8" class="ev" textLength="162.7" lengthAdjust="spacingAndGlyphs">Chez Soif präsentiert Offene Tür im Musikatelier</text>
<text x="298.8" y="1981.35" font-size="8" class="ev" textLength="50.4" lengthAdjust="spacingAndGlyphs">Canto Amabile</text>
<text x="417.8" y="2006.38" font-size="8" class="ev" textLength="68.2" lengthAdjust="spacingAndGlyphs">Franziska Edelmann</text>
<text x="391.5" y="2031.4" font-size="8" class="ev" textLength="61.1" lengthAdjust="spacingAndGlyphs">Heusser/Vilanova</text>
<text x="341.6" y="2056.42" font-size="8" class="ev" textLength="62.8" lengthAdjust="spacingAndGlyphs">Ensemble Quadrel</text>
<text x="422.7" y="2056.42" font-size="8" class="ev" textLength="44.1" lengthAdjust="spacingAndGlyphs">Anna Gosteli</text>
<text x="379.9" y="2081.44" font-size="8" class="ev" textLength="65.1" lengthAdjust="spacingAndGlyphs">Delirium Ensemble</text>
<text x="372.8" y="2106.47" font-size="8" class="ev" textLength="73.5" lengthAdjust="spacingAndGlyphs">Orchesterschule Insel</text>
<text x="374.6" y="2131.49" font-size="8" class="ev" textLength="56.1" lengthAdjust="spacingAndGlyphs">Molto Crescendo</text>
<text x="526.1" y="2131.49" font-size="8" class="ev" textLength="120.3" lengthAdjust="spacingAndGlyphs">Jazzorchestra feat. Daniel Schnyder</text>
<text x="460.1" y="2156.51" font-size="8" class="ev" textLength="41.5" lengthAdjust="spacingAndGlyphs">Ansi Verwey</text>
<text x="432" y="2181.54" font-size="8" class="ev" textLength="118.1" lengthAdjust="spacingAndGlyphs">Kaschemme presents: Kinderdisko</text>
<text x="424" y="2206.56" font-size="8" class="ev" textLength="94.9" lengthAdjust="spacingAndGlyphs">BuchBasel: Lukas Hartmann</text>
<text x="417.8" y="2231.58" font-size="8" class="ev" textLength="88.2" lengthAdjust="spacingAndGlyphs">Neues Hornquartett Basel</text>
<text x="535.9" y="2231.58" font-size="8" class="ev" textLength="28.9" lengthAdjust="spacingAndGlyphs">Xipenda</text>
<text x="446.8" y="2256.61" font-size="8" class="ev" textLength="114.9" lengthAdjust="spacingAndGlyphs">Derek Gripper &amp; Hopkinson Smith</text>
<text x="446.8" y="2281.63" font-size="8" class="ev" textLength="114.1" lengthAdjust="spacingAndGlyphs">Benedikt Böhlen &amp; Aline Schnepp</text>
<text x="501.6" y="2306.65" font-size="8" class="ev" textLength="18.7" lengthAdjust="spacingAndGlyphs">Riven</text>
<text x="565.8" y="2306.65" font-size="8" class="ev" textLength="86.9" lengthAdjust="spacingAndGlyphs">Chris Sigdell alias B°TONG</text>
<text x="510.1" y="2331.67" font-size="8" class="ev" textLength="41" lengthAdjust="spacingAndGlyphs">Go Ask Alice</text>
<text x="546.2" y="2356.7" font-size="8" class="ev" textLength="46.8" lengthAdjust="spacingAndGlyphs">Theater Basel</text>
</g>
<text x="111.6" y="683.46" font-size="9.5" class="fs" textLength="4.2" lengthAdjust="spacingAndGlyphs">*</text>
<text x="120.3" y="681.96" font-size="8.6" class="fn" textLength="73.96" lengthAdjust="spacingAndGlyphs">22A: Jazzcampus Saal</text>
<text x="120.3" y="691.96" font-size="8.6" class="fn" textLength="75.1" lengthAdjust="spacingAndGlyphs">22B: Jazzcampus Club</text>
<text x="120.3" y="702.16" font-size="8.6" class="fn" textLength="102.07" lengthAdjust="spacingAndGlyphs">22C: Jazzcampus Performance</text>
<text x="111.4" y="2416.96" font-size="9.5" class="fs" textLength="4.2" lengthAdjust="spacingAndGlyphs">*</text>
<text x="120.4" y="2415.46" font-size="8.6" class="fn" textLength="73.96" lengthAdjust="spacingAndGlyphs">22A: Jazzcampus Saal</text>
<text x="120.4" y="2425.36" font-size="8.6" class="fn" textLength="75.1" lengthAdjust="spacingAndGlyphs">22B: Jazzcampus Club</text>
<text x="120.4" y="2435.46" font-size="8.6" class="fn" textLength="102.07" lengthAdjust="spacingAndGlyphs">22C: Jazzcampus Performance</text>
<text x="265.2" y="2416.96" font-size="9.5" class="fs" textLength="8.4" lengthAdjust="spacingAndGlyphs">**</text>
<text x="278.7" y="2415.46" font-size="8.6" class="fn" textLength="65.99" lengthAdjust="spacingAndGlyphs">32A: Atelier Felucca</text>
<text x="278.7" y="2425.36" font-size="8.6" class="fn" textLength="33.11" lengthAdjust="spacingAndGlyphs">32B: Burg</text>
<text x="278.7" y="2435.46" font-size="8.6" class="fn" textLength="30.03" lengthAdjust="spacingAndGlyphs">32C: Sud</text>
<text x="278.7" y="2445.66" font-size="8.6" class="fn" textLength="51.46" lengthAdjust="spacingAndGlyphs">32d: Turmstübli</text>
<text x="85.4" y="2496.13" font-size="10.95" class="ln" text-anchor="end" textLength="4.31" lengthAdjust="spacingAndGlyphs">1</text>
<text x="97.8" y="2496.13" font-size="10.95" class="ln" textLength="53.8" lengthAdjust="spacingAndGlyphs">MARINA BAR</text>
<text x="97.8" y="2505.35" font-size="10.7" class="la" textLength="60.3" lengthAdjust="spacingAndGlyphs">Uferstrasse 100</text>
<text x="85.4" y="2524.93" font-size="10.95" class="ln" text-anchor="end" textLength="4.31" lengthAdjust="spacingAndGlyphs">2</text>
<text x="97.8" y="2524.93" font-size="10.95" class="ln" textLength="128" lengthAdjust="spacingAndGlyphs">PATSCHIFIG / DER ROTE KORSAR</text>
<text x="97.8" y="2534.15" font-size="10.7" class="la" textLength="55.3" lengthAdjust="spacingAndGlyphs">Uferstrasse 40</text>
<text x="85.4" y="2553.73" font-size="10.95" class="ln" text-anchor="end" textLength="4.31" lengthAdjust="spacingAndGlyphs">3</text>
<text x="97.8" y="2553.73" font-size="10.95" class="ln" textLength="96.7" lengthAdjust="spacingAndGlyphs">H95, RAUM FÜR KULTUR</text>
<text x="97.8" y="2562.95" font-size="10.7" class="la" textLength="70.8" lengthAdjust="spacingAndGlyphs">Horburgstrasse 95</text>
<text x="85.4" y="2582.53" font-size="10.95" class="ln" text-anchor="end" textLength="4.31" lengthAdjust="spacingAndGlyphs">4</text>
<text x="97.8" y="2582.53" font-size="10.95" class="ln" textLength="103.1" lengthAdjust="spacingAndGlyphs">ST. JOHANN FÄHRE «UELI»</text>
<text x="97.8" y="2591.75" font-size="10.7" class="la" textLength="65.3" lengthAdjust="spacingAndGlyphs">Dreirosenbrücke</text>
<text x="85.4" y="2611.33" font-size="10.95" class="ln" text-anchor="end" textLength="4.31" lengthAdjust="spacingAndGlyphs">5</text>
<text x="97.8" y="2611.33" font-size="10.95" class="ln" textLength="81.7" lengthAdjust="spacingAndGlyphs">UNTERER RHEINWEG</text>
<text x="97.8" y="2620.55" font-size="10.7" class="la" textLength="73.8" lengthAdjust="spacingAndGlyphs">Zwischen Bläsiring</text>
<text x="97.8" y="2630.1" font-size="10.7" class="la" textLength="92.2" lengthAdjust="spacingAndGlyphs">und Offenburgerstrasse</text>
<text x="85.4" y="2649.68" font-size="10.95" class="ln" text-anchor="end" textLength="4.31" lengthAdjust="spacingAndGlyphs">6</text>
<text x="97.8" y="2649.68" font-size="10.95" class="ln" textLength="25.9" lengthAdjust="spacingAndGlyphs">UNION</text>
<text x="97.8" y="2658.9" font-size="10.7" class="la" textLength="68.8" lengthAdjust="spacingAndGlyphs">Klybeckstrasse 95</text>
<text x="85.4" y="2678.48" font-size="10.95" class="ln" text-anchor="end" textLength="4.31" lengthAdjust="spacingAndGlyphs">7</text>
<text x="97.8" y="2678.48" font-size="10.95" class="ln" textLength="37.4" lengthAdjust="spacingAndGlyphs">BELLEVUE</text>
<text x="97.8" y="2687.7" font-size="10.7" class="la" textLength="127" lengthAdjust="spacingAndGlyphs">Breisacherstrasse 50 (Hinterhof)</text>
<text x="85.4" y="2707.28" font-size="10.95" class="ln" text-anchor="end" textLength="4.31" lengthAdjust="spacingAndGlyphs">8</text>
<text x="97.8" y="2707.28" font-size="10.95" class="ln" textLength="71.3" lengthAdjust="spacingAndGlyphs">PRIVATWOHNUNG</text>
<text x="97.8" y="2716.5" font-size="10.7" class="la" textLength="68.8" lengthAdjust="spacingAndGlyphs">Klybeckstrasse 84</text>
<text x="85.4" y="2736.08" font-size="10.95" class="ln" text-anchor="end" textLength="4.31" lengthAdjust="spacingAndGlyphs">9</text>
<text x="97.8" y="2736.08" font-size="10.95" class="ln" textLength="58.8" lengthAdjust="spacingAndGlyphs">BAUART BASEL</text>
<text x="97.8" y="2745.3" font-size="10.7" class="la" textLength="65.8" lengthAdjust="spacingAndGlyphs">Claragraben 160</text>
<text x="85.4" y="2764.88" font-size="10.95" class="ln" text-anchor="end" textLength="8.62" lengthAdjust="spacingAndGlyphs">10</text>
<text x="97.8" y="2764.88" font-size="10.95" class="ln" textLength="78.7" lengthAdjust="spacingAndGlyphs">PROJEKTRAUM M54</text>
<text x="97.8" y="2774.1" font-size="10.7" class="la" textLength="83.7" lengthAdjust="spacingAndGlyphs">Mörsbergerstrasse 54</text>
<text x="264.2" y="2496.13" font-size="10.95" class="ln" text-anchor="end" textLength="8.19" lengthAdjust="spacingAndGlyphs">11</text>
<text x="277.1" y="2496.13" font-size="10.95" class="ln" textLength="57.8" lengthAdjust="spacingAndGlyphs">CAFÉ HAMMER</text>
<text x="277.1" y="2505.35" font-size="10.7" class="la" textLength="77.7" lengthAdjust="spacingAndGlyphs">Hammerstrasse 133</text>
<text x="264.2" y="2524.93" font-size="10.95" class="ln" text-anchor="end" textLength="8.62" lengthAdjust="spacingAndGlyphs">12</text>
<text x="277.1" y="2524.93" font-size="10.95" class="ln" textLength="54.8" lengthAdjust="spacingAndGlyphs">SPIEL-ESTRICH</text>
<text x="277.1" y="2534.15" font-size="10.7" class="la" textLength="69.3" lengthAdjust="spacingAndGlyphs">Klybeckstrasse 1b</text>
<text x="264.2" y="2553.73" font-size="10.95" class="ln" text-anchor="end" textLength="8.62" lengthAdjust="spacingAndGlyphs">13</text>
<text x="277.1" y="2553.73" font-size="10.95" class="ln" textLength="135" lengthAdjust="spacingAndGlyphs">AUSSTELLUNGSRAUM KLINGENTAL</text>
<text x="277.1" y="2562.95" font-size="10.7" class="la" textLength="99.6" lengthAdjust="spacingAndGlyphs">Rank, Kasernenstrasse 34</text>
<text x="264.2" y="2582.53" font-size="10.95" class="ln" text-anchor="end" textLength="8.62" lengthAdjust="spacingAndGlyphs">14</text>
<text x="277.1" y="2582.53" font-size="10.95" class="ln" textLength="38.4" lengthAdjust="spacingAndGlyphs">CHEZ SOIF</text>
<text x="277.1" y="2591.75" font-size="10.7" class="la" textLength="60.8" lengthAdjust="spacingAndGlyphs">Riehenring 107</text>
<text x="264.2" y="2611.33" font-size="10.95" class="ln" text-anchor="end" textLength="8.62" lengthAdjust="spacingAndGlyphs">15</text>
<text x="277.1" y="2611.33" font-size="10.95" class="ln" textLength="30.4" lengthAdjust="spacingAndGlyphs">GLUBOS</text>
<text x="277.1" y="2620.55" font-size="10.7" class="la" textLength="60.3" lengthAdjust="spacingAndGlyphs">Rappoltshof 12</text>
<text x="264.2" y="2640.13" font-size="10.95" class="ln" text-anchor="end" textLength="8.62" lengthAdjust="spacingAndGlyphs">16</text>
<text x="277.1" y="2640.13" font-size="10.95" class="ln" textLength="48.3" lengthAdjust="spacingAndGlyphs">CLARAPLATZ</text>
<text x="264.2" y="2659.38" font-size="10.95" class="ln" text-anchor="end" textLength="8.62" lengthAdjust="spacingAndGlyphs">17</text>
<text x="277.1" y="2659.38" font-size="10.95" class="ln" textLength="25.4" lengthAdjust="spacingAndGlyphs">KLARA</text>
<text x="277.1" y="2668.6" font-size="10.7" class="la" textLength="58.3" lengthAdjust="spacingAndGlyphs">Clarastrasse 13</text>
<text x="264.2" y="2688.18" font-size="10.95" class="ln" text-anchor="end" textLength="8.62" lengthAdjust="spacingAndGlyphs">18</text>
<text x="277.1" y="2688.18" font-size="10.95" class="ln" textLength="52.8" lengthAdjust="spacingAndGlyphs">IRMA &amp; FRED</text>
<text x="277.1" y="2697.4" font-size="10.7" class="la" textLength="67.8" lengthAdjust="spacingAndGlyphs">Claramattweg 16</text>
<text x="264.2" y="2716.98" font-size="10.95" class="ln" text-anchor="end" textLength="8.62" lengthAdjust="spacingAndGlyphs">19</text>
<text x="277.1" y="2716.98" font-size="10.95" class="ln" textLength="52.8" lengthAdjust="spacingAndGlyphs">MESSE BASEL</text>
<text x="277.1" y="2726.2" font-size="10.7" class="la" textLength="89.2" lengthAdjust="spacingAndGlyphs">Parkhaus an der Messe</text>
<text x="264.2" y="2745.78" font-size="10.95" class="ln" text-anchor="end" textLength="8.62" lengthAdjust="spacingAndGlyphs">20</text>
<text x="277.1" y="2745.78" font-size="10.95" class="ln" textLength="55.3" lengthAdjust="spacingAndGlyphs">HOTEL KRAFFT</text>
<text x="277.1" y="2755" font-size="10.7" class="la" textLength="57.3" lengthAdjust="spacingAndGlyphs">Rheingasse 12</text>
<text x="442.9" y="2496.13" font-size="10.95" class="ln" text-anchor="end" textLength="8.62" lengthAdjust="spacingAndGlyphs">21</text>
<text x="456.4" y="2496.13" font-size="10.95" class="ln" textLength="72.7" lengthAdjust="spacingAndGlyphs">STIFTUNG HABITAT</text>
<text x="456.4" y="2505.35" font-size="10.7" class="la" textLength="86.1" lengthAdjust="spacingAndGlyphs">Eingang Utengasse 32</text>
<text x="442.9" y="2524.93" font-size="10.95" class="ln" text-anchor="end" textLength="8.62" lengthAdjust="spacingAndGlyphs">22</text>
<text x="456.4" y="2524.93" font-size="10.95" class="ln" textLength="51.2" lengthAdjust="spacingAndGlyphs">JAZZCAMPUS</text>
<text x="456.4" y="2534.15" font-size="10.7" class="la" textLength="51.7" lengthAdjust="spacingAndGlyphs">Utengasse 15</text>
<text x="442.9" y="2553.73" font-size="10.95" class="ln" text-anchor="end" textLength="8.62" lengthAdjust="spacingAndGlyphs">23</text>
<text x="456.4" y="2553.73" font-size="10.95" class="ln" textLength="57.7" lengthAdjust="spacingAndGlyphs">WETTSTEINHOF</text>
<text x="456.4" y="2562.95" font-size="10.7" class="la" textLength="59.7" lengthAdjust="spacingAndGlyphs">Claragraben 43</text>
<text x="442.9" y="2582.53" font-size="10.95" class="ln" text-anchor="end" textLength="8.62" lengthAdjust="spacingAndGlyphs">24</text>
<text x="456.4" y="2582.53" font-size="10.95" class="ln" textLength="39.8" lengthAdjust="spacingAndGlyphs">INNENHOF</text>
<text x="456.4" y="2591.75" font-size="10.7" class="la" textLength="48.8" lengthAdjust="spacingAndGlyphs">Rebgasse 35</text>
<text x="442.9" y="2611.33" font-size="10.95" class="ln" text-anchor="end" textLength="8.62" lengthAdjust="spacingAndGlyphs">25</text>
<text x="456.4" y="2611.33" font-size="10.95" class="ln" textLength="44.3" lengthAdjust="spacingAndGlyphs">KELLER R47</text>
<text x="456.4" y="2620.55" font-size="10.7" class="la" textLength="56.2" lengthAdjust="spacingAndGlyphs">Rheingasse 47</text>
<text x="442.9" y="2640.13" font-size="10.95" class="ln" text-anchor="end" textLength="8.62" lengthAdjust="spacingAndGlyphs">26</text>
<text x="456.4" y="2640.13" font-size="10.95" class="ln" textLength="71.7" lengthAdjust="spacingAndGlyphs">KULTUR REVERENZ</text>
<text x="456.4" y="2649.35" font-size="10.7" class="la" textLength="76.1" lengthAdjust="spacingAndGlyphs">Reverenzgässlein 2</text>
<text x="442.9" y="2668.93" font-size="10.95" class="ln" text-anchor="end" textLength="8.62" lengthAdjust="spacingAndGlyphs">27</text>
<text x="456.4" y="2668.93" font-size="10.95" class="ln" textLength="52.2" lengthAdjust="spacingAndGlyphs">HIRSCHENECK</text>
<text x="456.4" y="2678.15" font-size="10.7" class="la" textLength="56.2" lengthAdjust="spacingAndGlyphs">Lindenberg 23</text>
<text x="442.9" y="2697.73" font-size="10.95" class="ln" text-anchor="end" textLength="8.62" lengthAdjust="spacingAndGlyphs">28</text>
<text x="456.4" y="2697.73" font-size="10.95" class="ln" textLength="73.7" lengthAdjust="spacingAndGlyphs">WETTSTEINBRÜCKE</text>
<text x="456.4" y="2706.95" font-size="10.7" class="la" textLength="132.9" lengthAdjust="spacingAndGlyphs">Unter der Brücke, Kleinbasler Seite</text>
<text x="442.9" y="2726.53" font-size="10.95" class="ln" text-anchor="end" textLength="8.62" lengthAdjust="spacingAndGlyphs">29</text>
<text x="456.4" y="2726.53" font-size="10.95" class="ln" textLength="74.2" lengthAdjust="spacingAndGlyphs">KARTÄUSERKIRCHE</text>
<text x="456.4" y="2735.75" font-size="10.7" class="la" textLength="81.6" lengthAdjust="spacingAndGlyphs">Theodorskirchplatz 7</text>
<text x="442.9" y="2755.33" font-size="10.95" class="ln" text-anchor="end" textLength="8.62" lengthAdjust="spacingAndGlyphs">30</text>
<text x="456.4" y="2755.33" font-size="10.95" class="ln" textLength="68.2" lengthAdjust="spacingAndGlyphs">THEODORSKIRCHE</text>
<text x="456.4" y="2764.55" font-size="10.7" class="la" textLength="81.6" lengthAdjust="spacingAndGlyphs">Theodorskirchplatz 5</text>
<text x="622.7" y="2496.13" font-size="10.95" class="ln" text-anchor="end" textLength="8.62" lengthAdjust="spacingAndGlyphs">31</text>
<text x="635.1" y="2496.13" font-size="10.95" class="ln" textLength="66.3" lengthAdjust="spacingAndGlyphs">WETTSTEINPLATZ</text>
<text x="622.7" y="2515.38" font-size="10.95" class="ln" text-anchor="end" textLength="8.62" lengthAdjust="spacingAndGlyphs">32</text>
<text x="635.1" y="2515.38" font-size="10.95" class="ln" textLength="97.2" lengthAdjust="spacingAndGlyphs">WERKRAUM WARTECK /</text>
<text x="635.1" y="2524.93" font-size="10.95" class="ln" textLength="115.6" lengthAdjust="spacingAndGlyphs">SUD / TURMSTÜBLI / BURG /</text>
<text x="635.1" y="2534.48" font-size="10.95" class="ln" textLength="65.8" lengthAdjust="spacingAndGlyphs">ATELIER FELUCCA</text>
<text x="635.1" y="2543.7" font-size="10.7" class="la" textLength="42.9" lengthAdjust="spacingAndGlyphs">Burgweg 7</text>
<text x="622.7" y="2563.28" font-size="10.95" class="ln" text-anchor="end" textLength="8.62" lengthAdjust="spacingAndGlyphs">33</text>
<text x="635.1" y="2563.28" font-size="10.95" class="ln" textLength="69.8" lengthAdjust="spacingAndGlyphs">MUSEUM TINGUELY</text>
<text x="635.1" y="2572.5" font-size="10.7" class="la" textLength="83.2" lengthAdjust="spacingAndGlyphs">Paul Sacher-Anlage 1</text>
<text x="622.7" y="2592.08" font-size="10.95" class="ln" text-anchor="end" textLength="8.62" lengthAdjust="spacingAndGlyphs">34</text>
<text x="635.1" y="2592.08" font-size="10.95" class="ln" textLength="69.3" lengthAdjust="spacingAndGlyphs">ST. ALBANKIRCHE</text>
<text x="635.1" y="2601.3" font-size="10.7" class="la" textLength="84.2" lengthAdjust="spacingAndGlyphs">St. Alban-Kirchrain 11</text>
<text x="622.7" y="2620.88" font-size="10.95" class="ln" text-anchor="end" textLength="8.62" lengthAdjust="spacingAndGlyphs">35</text>
<text x="635.1" y="2620.88" font-size="10.95" class="ln" textLength="50.8" lengthAdjust="spacingAndGlyphs">KASCHEMME</text>
<text x="635.1" y="2630.1" font-size="10.7" class="la" textLength="85.7" lengthAdjust="spacingAndGlyphs">Lehenmattstrasse 353</text>
<text x="622.7" y="2649.68" font-size="10.95" class="ln" text-anchor="end" textLength="8.62" lengthAdjust="spacingAndGlyphs">36</text>
<text x="635.1" y="2649.68" font-size="10.95" class="ln" textLength="102.6" lengthAdjust="spacingAndGlyphs">THE BIRD&#x27;S EYE JAZZ CLUB</text>
<text x="635.1" y="2658.9" font-size="10.7" class="la" textLength="58.3" lengthAdjust="spacingAndGlyphs">Kohlenberg 20</text>
<text x="622.7" y="2678.48" font-size="10.95" class="ln" text-anchor="end" textLength="8.62" lengthAdjust="spacingAndGlyphs">37</text>
<text x="635.1" y="2678.48" font-size="10.95" class="ln" textLength="97.6" lengthAdjust="spacingAndGlyphs">MUSEUM DER KULTUREN</text>
<text x="635.1" y="2687.7" font-size="10.7" class="la" textLength="63.3" lengthAdjust="spacingAndGlyphs">Münsterplatz 20</text>
<text x="622.7" y="2707.28" font-size="10.95" class="ln" text-anchor="end" textLength="8.62" lengthAdjust="spacingAndGlyphs">38</text>
<text x="635.1" y="2707.28" font-size="10.95" class="ln" textLength="135" lengthAdjust="spacingAndGlyphs">ZENTRUMFÜRAFRIKASTUDIENBASEL</text>
<text x="635.1" y="2716.5" font-size="10.7" class="la" textLength="62.3" lengthAdjust="spacingAndGlyphs">Rheinsprung 21</text>
<text x="622.7" y="2736.08" font-size="10.95" class="ln" text-anchor="end" textLength="8.62" lengthAdjust="spacingAndGlyphs">39</text>
<text x="635.1" y="2736.08" font-size="10.95" class="ln" textLength="117.1" lengthAdjust="spacingAndGlyphs">GRAND HOTEL LES TROIS ROIS</text>
<text x="635.1" y="2745.3" font-size="10.7" class="la" textLength="53.3" lengthAdjust="spacingAndGlyphs">Blumenrain 8</text>
</svg>
</body></html>
